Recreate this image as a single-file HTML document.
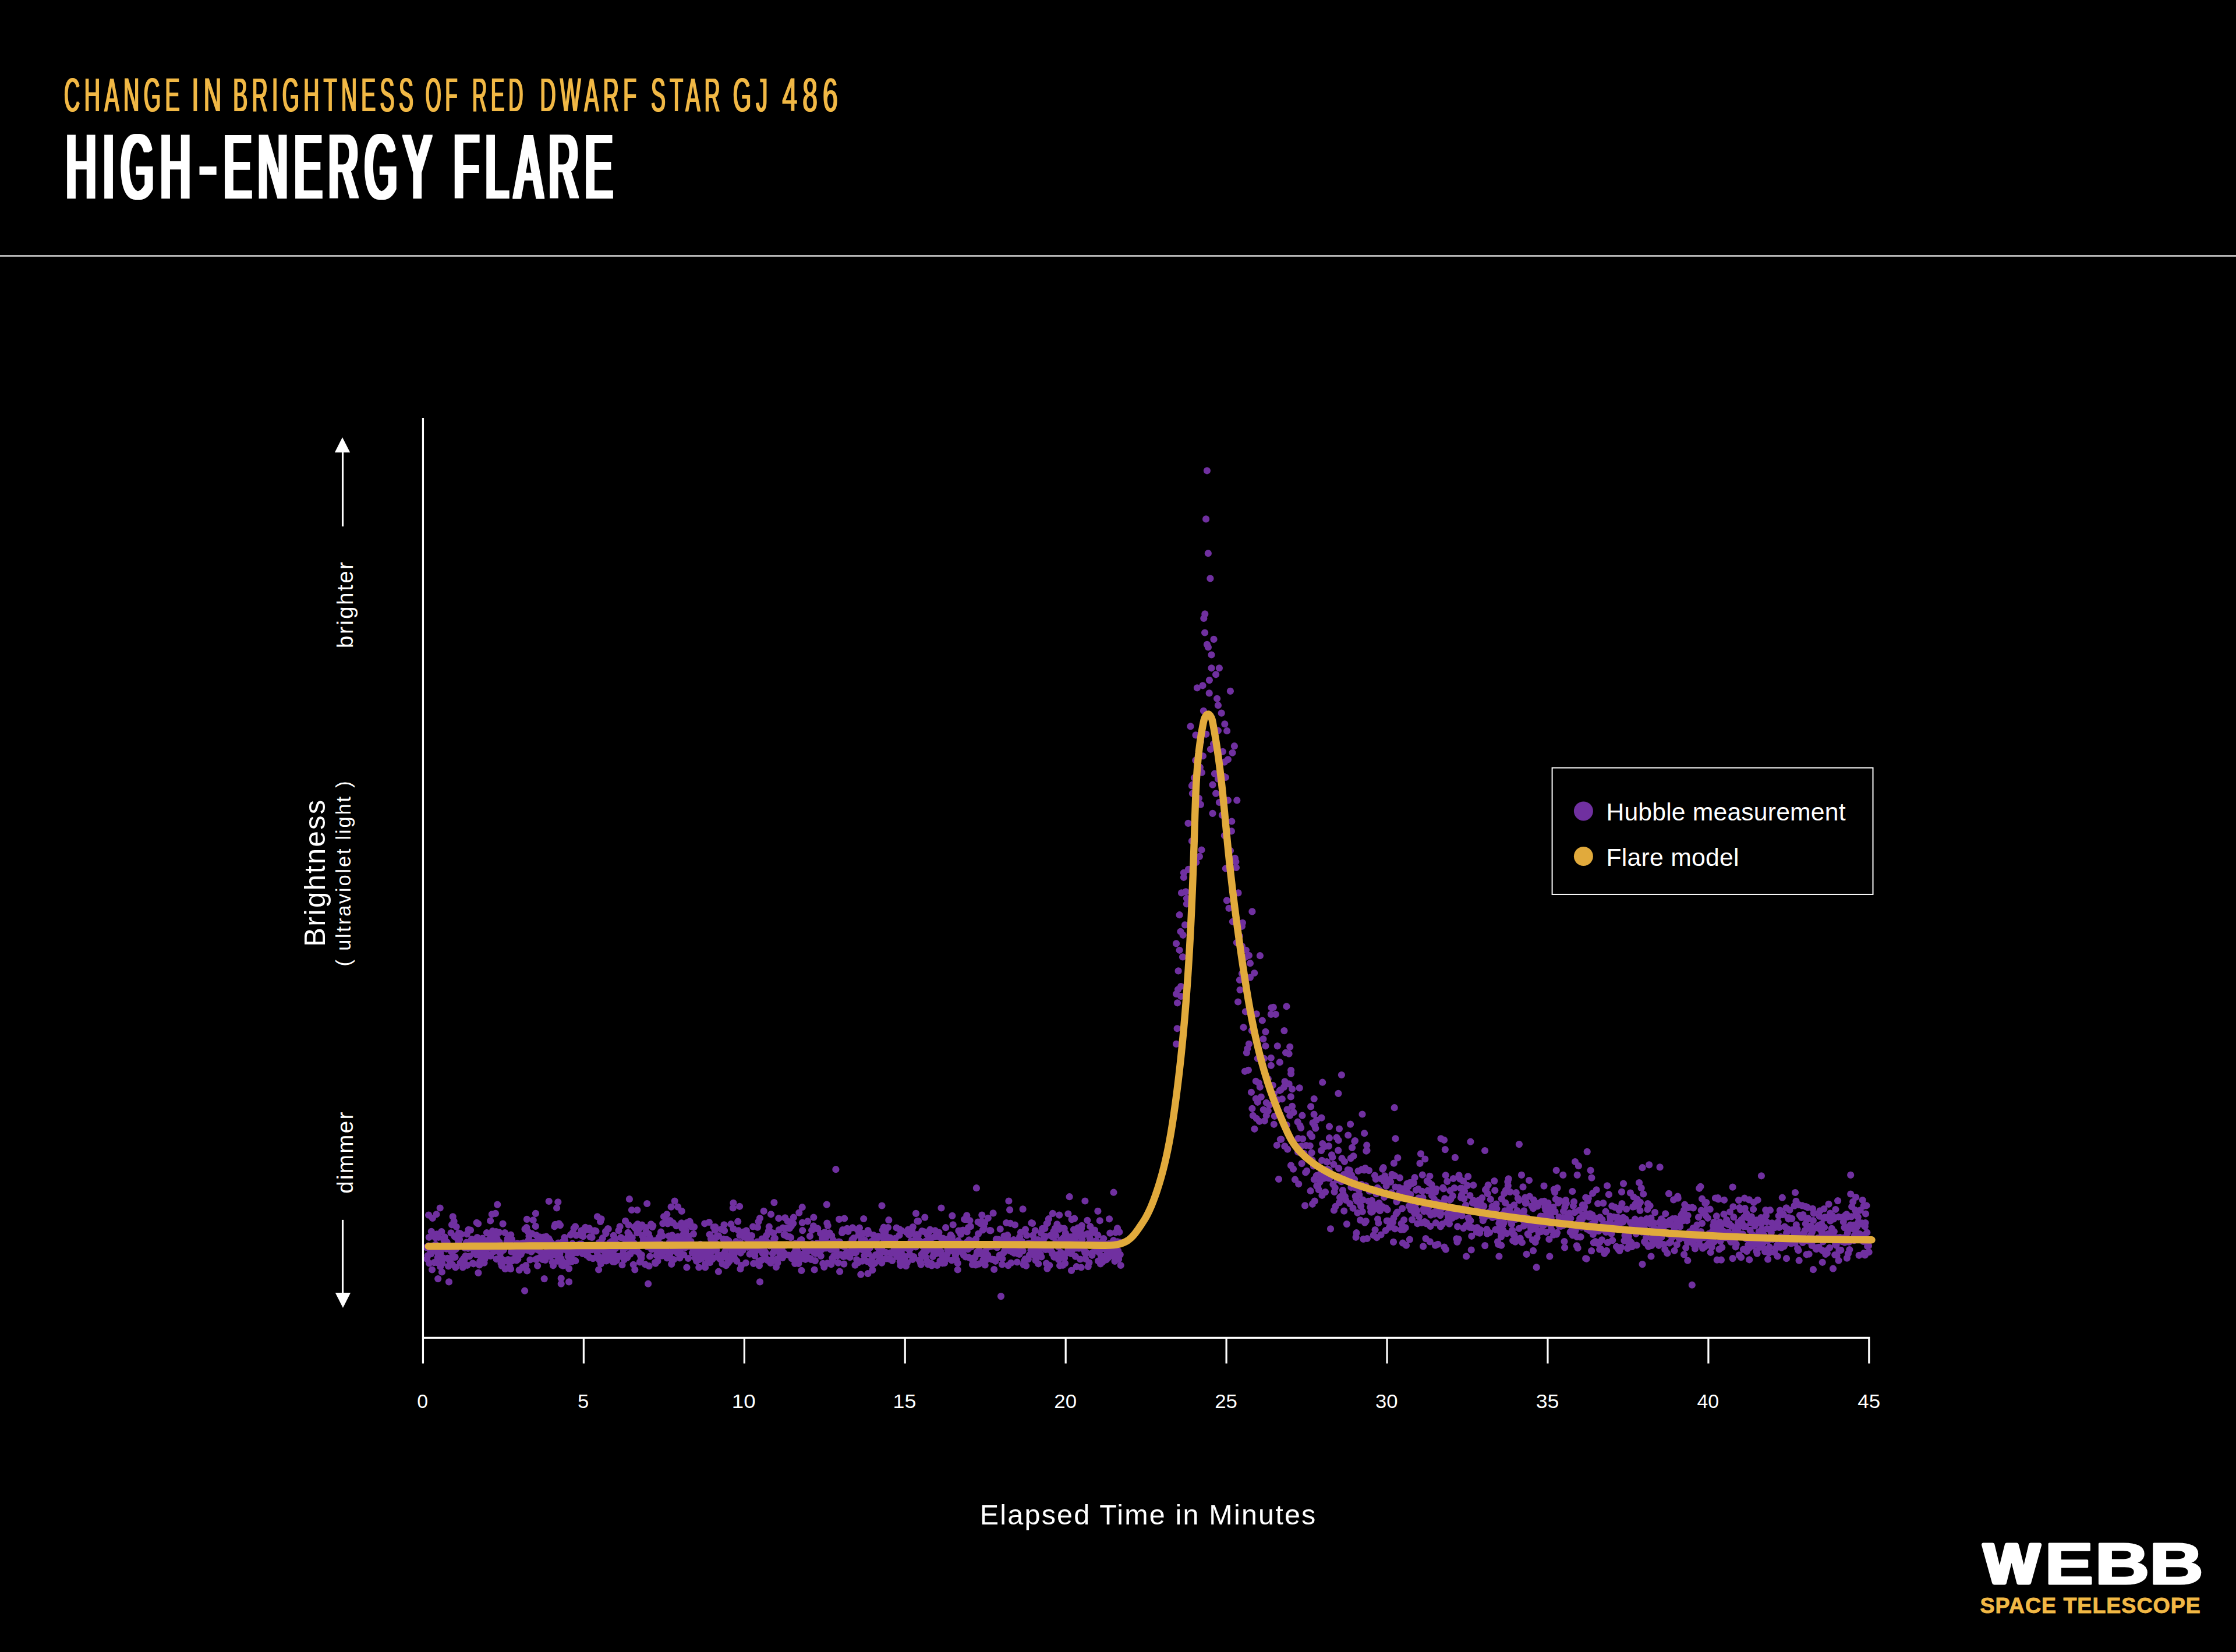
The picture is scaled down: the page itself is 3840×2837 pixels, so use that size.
<!DOCTYPE html>
<html lang="en"><head><meta charset="utf-8"><title>High-Energy Flare</title>
<style>html,body{margin:0;padding:0;background:#000}body{width:3840px;height:2837px;overflow:hidden}svg{display:block}text{font-family:"Liberation Sans",sans-serif;white-space:pre}</style></head><body>
<svg width="3840" height="2837" viewBox="0 0 3840 2837">
<defs><filter id="fatx1" x="-2%" y="-10%" width="104%" height="120%"><feMorphology operator="dilate" radius="1 0"/></filter><filter id="fatx3" x="-2%" y="-10%" width="104%" height="120%"><feMorphology operator="dilate" radius="4 1"/></filter></defs>
<rect width="3840" height="2837" fill="#000"/>
<rect id="rule" x="0" y="438.4" width="3840" height="2.2" fill="#fff"/>
<path id="dots" d="M732.2 2142.2h.01M733.2 2162.0h.01M734.0 2140.8h.01M734.6 2156.3h.01M735.7 2139.7h.01M736.8 2124.8h.01M737.1 2169.5h.01M738.7 2146.6h.01M739.3 2143.3h.01M740.4 2153.1h.01M740.8 2114.9h.01M741.9 2119.7h.01M743.3 2139.5h.01M743.6 2140.3h.01M745.1 2120.3h.01M745.6 2168.2h.01M746.6 2146.6h.01M747.7 2125.4h.01M748.2 2137.2h.01M749.4 2167.9h.01M750.1 2119.3h.01M751.6 2159.9h.01M752.5 2152.8h.01M753.2 2124.8h.01M754.4 2148.0h.01M755.3 2149.2h.01M755.8 2146.7h.01M756.4 2152.3h.01M757.8 2142.7h.01M758.3 2115.0h.01M759.3 2169.9h.01M760.8 2162.1h.01M761.5 2160.7h.01M762.5 2129.9h.01M763.6 2124.4h.01M764.4 2143.9h.01M765.3 2135.7h.01M766.2 2137.4h.01M766.7 2144.8h.01M767.6 2133.2h.01M768.6 2160.9h.01M770.1 2174.5h.01M770.9 2143.6h.01M771.5 2163.6h.01M772.8 2143.2h.01M773.4 2169.6h.01M774.5 2117.3h.01M775.3 2149.6h.01M776.0 2103.3h.01M776.8 2171.5h.01M777.6 2157.2h.01M779.0 2159.1h.01M780.2 2146.9h.01M780.8 2123.5h.01M781.6 2158.9h.01M782.7 2145.3h.01M783.7 2106.8h.01M784.7 2142.8h.01M784.9 2126.2h.01M786.0 2141.4h.01M787.2 2132.6h.01M787.7 2117.7h.01M789.0 2128.5h.01M790.0 2118.4h.01M790.5 2168.9h.01M792.0 2119.7h.01M792.5 2166.9h.01M793.8 2164.3h.01M794.8 2176.4h.01M795.7 2140.8h.01M796.5 2161.1h.01M797.4 2163.4h.01M798.4 2143.3h.01M799.4 2156.8h.01M799.7 2137.2h.01M801.0 2133.6h.01M801.7 2119.3h.01M802.5 2172.8h.01M803.8 2143.8h.01M804.5 2111.9h.01M805.3 2157.5h.01M806.1 2157.4h.01M807.2 2140.7h.01M808.0 2112.5h.01M808.9 2143.1h.01M810.0 2128.1h.01M810.8 2129.2h.01M811.9 2169.3h.01M813.1 2170.3h.01M814.0 2152.5h.01M814.5 2143.3h.01M815.9 2148.1h.01M816.3 2133.6h.01M817.7 2154.5h.01M818.7 2099.8h.01M819.5 2125.0h.01M820.5 2147.7h.01M821.1 2101.5h.01M822.4 2155.0h.01M823.1 2129.2h.01M824.2 2166.1h.01M824.6 2150.8h.01M825.5 2139.1h.01M827.0 2160.8h.01M827.3 2127.4h.01M828.5 2126.7h.01M829.8 2141.8h.01M830.0 2146.5h.01M831.5 2168.7h.01M832.6 2161.9h.01M832.9 2135.4h.01M833.8 2146.3h.01M834.7 2156.6h.01M835.9 2117.1h.01M836.6 2153.3h.01M837.8 2136.5h.01M838.6 2142.6h.01M839.3 2129.2h.01M840.9 2140.3h.01M841.4 2120.0h.01M842.4 2157.0h.01M843.2 2136.4h.01M844.4 2143.0h.01M845.4 2138.9h.01M845.9 2114.2h.01M846.7 2128.9h.01M847.7 2149.5h.01M848.8 2121.5h.01M849.8 2115.9h.01M850.9 2137.4h.01M851.9 2115.1h.01M852.6 2162.3h.01M853.4 2126.7h.01M854.5 2148.5h.01M855.2 2145.7h.01M856.2 2137.7h.01M857.1 2116.4h.01M857.6 2133.3h.01M858.9 2152.2h.01M859.6 2160.1h.01M860.5 2169.5h.01M861.8 2174.0h.01M862.5 2163.2h.01M863.6 2101.6h.01M864.5 2146.9h.01M865.2 2145.2h.01M866.3 2165.4h.01M867.1 2117.0h.01M867.7 2165.3h.01M869.1 2139.5h.01M870.1 2165.4h.01M870.6 2132.2h.01M871.7 2127.0h.01M872.6 2163.1h.01M873.4 2135.6h.01M874.7 2140.3h.01M875.3 2174.5h.01M876.3 2163.9h.01M877.3 2120.7h.01M878.1 2149.7h.01M879.0 2128.4h.01M879.7 2165.2h.01M880.9 2163.1h.01M881.7 2150.8h.01M882.9 2150.6h.01M883.7 2143.7h.01M885.0 2142.4h.01M885.4 2144.7h.01M886.7 2155.3h.01M887.1 2164.5h.01M888.3 2135.4h.01M889.3 2162.5h.01M890.0 2135.8h.01M891.1 2139.8h.01M892.1 2148.3h.01M892.7 2137.8h.01M893.5 2150.1h.01M894.7 2154.1h.01M895.4 2135.7h.01M896.4 2144.8h.01M897.5 2176.4h.01M898.8 2134.5h.01M899.0 2147.5h.01M900.5 2136.4h.01M901.5 2110.9h.01M901.8 2174.4h.01M903.2 2173.2h.01M904.3 2108.0h.01M904.9 2093.9h.01M906.0 2147.0h.01M906.9 2130.9h.01M907.3 2115.8h.01M908.5 2122.9h.01M909.8 2131.6h.01M910.3 2163.5h.01M911.1 2142.7h.01M912.4 2149.8h.01M913.3 2118.4h.01M913.8 2141.7h.01M915.0 2144.3h.01M915.7 2095.3h.01M916.7 2133.9h.01M918.1 2142.3h.01M918.8 2145.1h.01M919.8 2105.9h.01M920.1 2162.8h.01M921.2 2121.4h.01M922.3 2161.7h.01M923.1 2173.7h.01M924.0 2129.1h.01M924.8 2146.9h.01M926.2 2160.4h.01M927.0 2124.3h.01M927.6 2139.5h.01M929.0 2136.1h.01M930.0 2151.4h.01M930.8 2135.9h.01M931.8 2162.9h.01M932.9 2159.8h.01M933.3 2124.5h.01M934.4 2136.1h.01M935.4 2128.9h.01M936.4 2163.9h.01M937.1 2157.9h.01M938.0 2123.6h.01M939.2 2150.0h.01M940.0 2143.9h.01M940.7 2146.7h.01M941.7 2128.9h.01M942.4 2127.1h.01M943.8 2157.5h.01M944.2 2130.5h.01M945.3 2157.9h.01M946.2 2149.1h.01M947.6 2135.0h.01M948.4 2140.6h.01M948.6 2167.5h.01M950.0 2173.3h.01M950.7 2148.5h.01M951.5 2155.1h.01M952.3 2106.3h.01M953.4 2102.8h.01M954.5 2148.0h.01M955.3 2143.1h.01M956.5 2146.7h.01M957.5 2165.6h.01M958.6 2134.5h.01M959.5 2156.5h.01M959.9 2101.3h.01M961.3 2153.3h.01M962.0 2104.1h.01M963.0 2148.0h.01M963.5 2161.6h.01M964.9 2173.0h.01M965.4 2133.4h.01M966.9 2173.7h.01M967.4 2167.6h.01M968.1 2143.7h.01M969.3 2125.2h.01M970.0 2130.6h.01M971.0 2172.2h.01M971.9 2136.0h.01M972.6 2138.5h.01M973.7 2147.6h.01M974.7 2138.8h.01M975.6 2157.4h.01M976.3 2151.8h.01M977.3 2166.2h.01M978.3 2162.8h.01M979.4 2150.6h.01M979.9 2120.7h.01M980.9 2160.9h.01M981.8 2166.6h.01M983.0 2135.6h.01M983.6 2116.9h.01M984.6 2152.5h.01M985.6 2109.3h.01M986.9 2147.5h.01M988.0 2106.3h.01M988.3 2165.2h.01M989.5 2121.4h.01M990.8 2143.6h.01M991.4 2151.1h.01M991.9 2138.0h.01M993.4 2141.5h.01M993.8 2146.6h.01M995.4 2136.5h.01M995.9 2146.1h.01M996.6 2138.5h.01M998.1 2113.6h.01M998.5 2136.4h.01M999.3 2122.3h.01M1000.6 2152.9h.01M1001.5 2123.3h.01M1002.7 2114.1h.01M1003.4 2145.4h.01M1004.0 2109.7h.01M1005.3 2107.8h.01M1006.4 2149.3h.01M1006.9 2150.8h.01M1007.7 2155.6h.01M1008.7 2153.2h.01M1009.9 2140.2h.01M1011.0 2111.9h.01M1011.9 2109.4h.01M1012.3 2159.4h.01M1013.5 2124.1h.01M1014.0 2142.5h.01M1014.9 2142.7h.01M1016.6 2124.9h.01M1016.8 2146.2h.01M1018.3 2161.2h.01M1019.0 2141.5h.01M1019.7 2114.4h.01M1021.0 2140.4h.01M1021.3 2113.4h.01M1022.4 2144.6h.01M1023.5 2114.2h.01M1024.3 2159.4h.01M1025.7 2150.6h.01M1026.2 2155.9h.01M1027.4 2139.3h.01M1027.7 2157.2h.01M1028.7 2134.1h.01M1029.8 2164.3h.01M1031.1 2097.9h.01M1031.8 2170.4h.01M1033.0 2142.2h.01M1033.3 2136.0h.01M1034.8 2126.2h.01M1035.7 2141.8h.01M1036.6 2147.7h.01M1037.5 2158.6h.01M1038.2 2137.9h.01M1039.5 2165.2h.01M1040.0 2114.8h.01M1040.6 2118.1h.01M1041.6 2165.3h.01M1042.7 2155.1h.01M1044.0 2110.1h.01M1044.7 2110.5h.01M1046.0 2143.3h.01M1046.8 2147.0h.01M1047.1 2134.1h.01M1048.4 2156.9h.01M1049.5 2161.1h.01M1050.3 2132.1h.01M1051.4 2133.3h.01M1052.3 2166.6h.01M1053.1 2153.1h.01M1053.7 2121.8h.01M1055.2 2167.0h.01M1055.6 2144.9h.01M1056.7 2128.1h.01M1057.4 2143.7h.01M1058.8 2164.6h.01M1059.4 2157.6h.01M1060.4 2136.8h.01M1061.2 2158.3h.01M1062.4 2113.2h.01M1062.9 2157.9h.01M1064.3 2140.5h.01M1064.6 2106.4h.01M1066.2 2125.1h.01M1066.5 2139.4h.01M1067.4 2138.3h.01M1068.5 2172.2h.01M1069.8 2144.5h.01M1070.4 2151.9h.01M1071.4 2161.3h.01M1072.1 2163.1h.01M1073.5 2128.1h.01M1074.0 2096.9h.01M1075.4 2135.2h.01M1075.9 2142.0h.01M1077.2 2159.8h.01M1078.1 2124.5h.01M1078.4 2116.8h.01M1079.5 2103.6h.01M1080.6 2119.5h.01M1081.9 2152.8h.01M1082.3 2153.8h.01M1083.1 2141.0h.01M1084.3 2142.5h.01M1084.8 2130.6h.01M1085.7 2125.3h.01M1087.1 2141.3h.01M1087.7 2171.8h.01M1088.9 2135.0h.01M1089.5 2107.3h.01M1090.9 2148.4h.01M1091.5 2109.6h.01M1092.9 2104.4h.01M1093.2 2143.6h.01M1094.4 2117.1h.01M1095.2 2102.0h.01M1096.1 2116.7h.01M1096.8 2151.1h.01M1098.3 2109.3h.01M1098.8 2167.4h.01M1100.0 2156.5h.01M1101.2 2161.1h.01M1101.8 2155.0h.01M1102.6 2103.7h.01M1103.2 2122.2h.01M1104.6 2132.4h.01M1105.1 2127.8h.01M1106.4 2130.1h.01M1107.4 2136.4h.01M1108.0 2171.3h.01M1109.2 2108.1h.01M1109.6 2114.5h.01M1111.1 2138.4h.01M1111.8 2141.2h.01M1112.9 2134.1h.01M1113.8 2119.0h.01M1114.6 2174.2h.01M1115.5 2124.8h.01M1116.1 2157.5h.01M1117.2 2133.4h.01M1118.0 2102.3h.01M1119.1 2145.6h.01M1120.3 2107.1h.01M1121.3 2105.0h.01M1121.9 2133.6h.01M1123.1 2130.8h.01M1124.0 2138.9h.01M1125.0 2168.0h.01M1125.7 2169.6h.01M1126.6 2130.3h.01M1127.4 2155.9h.01M1128.3 2148.0h.01M1129.4 2165.8h.01M1130.0 2132.9h.01M1130.9 2127.0h.01M1131.9 2124.7h.01M1133.3 2147.7h.01M1134.1 2121.3h.01M1135.0 2115.7h.01M1135.6 2136.7h.01M1136.6 2156.6h.01M1137.7 2122.4h.01M1138.3 2101.1h.01M1139.3 2140.8h.01M1140.4 2138.1h.01M1141.1 2142.9h.01M1142.0 2141.4h.01M1143.0 2148.2h.01M1143.7 2146.9h.01M1145.1 2096.1h.01M1145.5 2160.4h.01M1146.7 2101.4h.01M1148.1 2156.6h.01M1148.7 2122.5h.01M1149.9 2133.1h.01M1150.1 2153.6h.01M1151.0 2150.5h.01M1152.5 2161.7h.01M1153.2 2170.9h.01M1154.4 2121.3h.01M1154.8 2148.4h.01M1155.8 2100.1h.01M1156.8 2163.2h.01M1157.7 2137.8h.01M1158.4 2128.6h.01M1159.8 2138.3h.01M1160.3 2133.9h.01M1161.3 2105.1h.01M1162.6 2141.7h.01M1163.6 2152.1h.01M1164.1 2123.8h.01M1165.5 2133.3h.01M1166.4 2141.0h.01M1167.3 2160.5h.01M1167.9 2150.1h.01M1168.8 2144.9h.01M1169.8 2127.6h.01M1170.4 2100.3h.01M1171.5 2109.4h.01M1172.8 2120.7h.01M1173.7 2129.8h.01M1174.2 2154.6h.01M1175.6 2128.7h.01M1175.8 2109.2h.01M1177.3 2142.3h.01M1177.9 2113.8h.01M1179.2 2102.7h.01M1179.6 2099.9h.01M1181.2 2137.3h.01M1181.9 2161.0h.01M1182.6 2122.8h.01M1183.4 2140.3h.01M1184.4 2097.5h.01M1185.2 2100.5h.01M1186.4 2131.9h.01M1187.6 2106.8h.01M1187.9 2138.9h.01M1188.9 2151.5h.01M1189.9 2143.5h.01M1190.9 2119.1h.01M1192.1 2107.1h.01M1192.5 2148.6h.01M1193.5 2159.9h.01M1194.8 2146.9h.01M1195.6 2148.6h.01M1196.2 2165.8h.01M1197.1 2145.5h.01M1198.4 2152.2h.01M1199.0 2147.2h.01M1200.5 2163.1h.01M1201.0 2159.5h.01M1201.8 2137.0h.01M1203.1 2136.8h.01M1203.8 2155.0h.01M1205.1 2161.0h.01M1205.5 2158.9h.01M1206.9 2151.8h.01M1207.4 2158.9h.01M1208.6 2149.6h.01M1208.9 2144.0h.01M1210.2 2101.3h.01M1211.0 2171.1h.01M1211.9 2145.8h.01M1213.1 2149.1h.01M1213.7 2145.4h.01M1215.2 2160.9h.01M1216.0 2148.8h.01M1216.8 2141.4h.01M1217.8 2099.0h.01M1218.5 2120.0h.01M1219.2 2168.1h.01M1220.2 2151.9h.01M1221.0 2127.6h.01M1222.0 2149.6h.01M1223.3 2162.4h.01M1224.0 2125.8h.01M1224.8 2160.6h.01M1225.6 2107.3h.01M1226.6 2131.6h.01M1227.8 2112.6h.01M1228.3 2107.1h.01M1229.9 2135.9h.01M1230.3 2146.7h.01M1231.1 2123.5h.01M1231.9 2123.6h.01M1233.1 2155.1h.01M1234.0 2122.4h.01M1235.2 2160.7h.01M1236.4 2158.7h.01M1237.2 2162.7h.01M1237.9 2156.0h.01M1238.6 2111.0h.01M1239.6 2159.4h.01M1240.6 2170.5h.01M1241.2 2154.6h.01M1242.2 2127.8h.01M1243.5 2103.3h.01M1244.1 2113.5h.01M1245.5 2148.8h.01M1246.3 2137.2h.01M1246.9 2173.3h.01M1248.0 2128.5h.01M1249.1 2161.1h.01M1250.2 2156.4h.01M1250.5 2168.7h.01M1251.3 2130.7h.01M1252.8 2165.8h.01M1253.3 2141.6h.01M1254.7 2159.2h.01M1255.3 2102.2h.01M1256.5 2156.7h.01M1257.5 2148.3h.01M1258.2 2137.2h.01M1258.7 2158.3h.01M1259.5 2110.3h.01M1260.5 2154.2h.01M1261.9 2161.7h.01M1262.3 2149.9h.01M1263.9 2132.2h.01M1264.8 2144.1h.01M1265.3 2165.8h.01M1266.2 2138.2h.01M1267.2 2097.7h.01M1268.1 2113.3h.01M1269.2 2139.5h.01M1270.3 2121.6h.01M1271.1 2134.1h.01M1271.9 2151.6h.01M1273.0 2173.2h.01M1273.4 2141.9h.01M1275.0 2147.0h.01M1275.5 2147.2h.01M1276.8 2115.6h.01M1277.7 2122.8h.01M1278.3 2124.6h.01M1279.2 2140.2h.01M1280.0 2124.7h.01M1280.9 2168.8h.01M1281.8 2113.4h.01M1283.2 2119.0h.01M1284.0 2141.8h.01M1285.0 2136.7h.01M1286.0 2131.3h.01M1286.8 2141.0h.01M1287.5 2153.7h.01M1288.6 2128.5h.01M1289.6 2131.7h.01M1290.3 2132.2h.01M1291.0 2122.1h.01M1291.8 2147.5h.01M1293.1 2106.5h.01M1294.1 2169.9h.01M1295.1 2147.9h.01M1296.2 2156.7h.01M1297.0 2149.4h.01M1297.4 2143.2h.01M1298.2 2137.3h.01M1299.6 2145.5h.01M1300.2 2132.6h.01M1301.0 2107.6h.01M1302.6 2097.9h.01M1303.2 2165.6h.01M1303.9 2173.4h.01M1305.2 2166.2h.01M1305.5 2141.3h.01M1307.2 2147.5h.01M1307.9 2164.1h.01M1308.5 2127.7h.01M1309.6 2152.1h.01M1310.2 2133.5h.01M1311.3 2137.2h.01M1312.1 2136.9h.01M1312.9 2148.2h.01M1314.2 2159.6h.01M1314.8 2151.2h.01M1315.6 2123.1h.01M1316.6 2121.4h.01M1318.0 2164.3h.01M1318.5 2133.8h.01M1319.8 2114.3h.01M1320.8 2106.7h.01M1321.7 2139.5h.01M1322.6 2115.3h.01M1323.3 2169.0h.01M1324.2 2135.8h.01M1325.2 2136.2h.01M1325.8 2162.7h.01M1326.9 2152.4h.01M1328.1 2117.5h.01M1329.2 2127.5h.01M1330.0 2145.6h.01M1330.9 2126.6h.01M1331.8 2139.4h.01M1333.0 2165.7h.01M1333.1 2136.8h.01M1334.6 2162.1h.01M1335.4 2168.7h.01M1336.1 2148.1h.01M1337.3 2092.2h.01M1337.8 2112.1h.01M1339.2 2152.7h.01M1339.7 2142.8h.01M1340.7 2139.8h.01M1341.6 2141.0h.01M1342.9 2146.5h.01M1343.8 2160.1h.01M1344.4 2108.7h.01M1345.6 2156.9h.01M1346.6 2120.6h.01M1347.1 2152.4h.01M1347.9 2120.0h.01M1349.5 2109.0h.01M1349.9 2138.5h.01M1351.3 2137.7h.01M1351.7 2123.2h.01M1352.5 2097.0h.01M1353.9 2109.1h.01M1354.7 2155.5h.01M1355.9 2109.4h.01M1356.3 2124.1h.01M1357.5 2098.6h.01M1358.0 2125.3h.01M1358.9 2105.5h.01M1359.8 2161.2h.01M1361.5 2155.2h.01M1362.2 2101.1h.01M1362.9 2155.6h.01M1363.8 2152.0h.01M1365.2 2170.0h.01M1365.7 2135.5h.01M1366.5 2146.8h.01M1367.9 2156.8h.01M1368.7 2137.2h.01M1369.1 2147.4h.01M1370.5 2162.3h.01M1371.5 2169.9h.01M1371.9 2161.7h.01M1373.4 2163.8h.01M1373.7 2155.2h.01M1374.6 2130.0h.01M1375.7 2135.8h.01M1376.4 2129.0h.01M1377.8 2099.7h.01M1378.2 2113.1h.01M1379.7 2157.8h.01M1380.1 2152.9h.01M1381.1 2142.5h.01M1381.9 2137.2h.01M1383.2 2162.8h.01M1384.5 2155.8h.01M1385.3 2159.9h.01M1385.8 2137.7h.01M1387.0 2097.4h.01M1387.9 2148.2h.01M1388.4 2144.4h.01M1389.6 2160.5h.01M1390.9 2122.9h.01M1391.6 2141.2h.01M1392.0 2161.5h.01M1392.9 2163.0h.01M1394.1 2112.8h.01M1395.1 2136.2h.01M1396.4 2148.7h.01M1397.0 2105.3h.01M1397.6 2149.0h.01M1398.4 2151.2h.01M1399.9 2165.1h.01M1400.7 2152.6h.01M1401.9 2109.8h.01M1402.3 2148.1h.01M1403.1 2135.0h.01M1404.3 2109.7h.01M1405.6 2143.6h.01M1406.3 2152.8h.01M1406.9 2139.7h.01M1407.8 2137.6h.01M1409.1 2118.1h.01M1409.7 2157.0h.01M1410.7 2146.2h.01M1412.1 2125.9h.01M1412.5 2129.5h.01M1413.3 2169.9h.01M1414.6 2129.6h.01M1415.1 2170.5h.01M1416.3 2116.1h.01M1417.6 2116.7h.01M1418.3 2143.5h.01M1418.9 2124.5h.01M1420.3 2100.5h.01M1420.8 2169.4h.01M1421.6 2104.9h.01M1422.5 2135.1h.01M1423.9 2143.8h.01M1424.7 2117.3h.01M1425.5 2142.0h.01M1426.6 2145.7h.01M1427.4 2171.3h.01M1428.2 2122.0h.01M1429.4 2160.5h.01M1430.1 2165.3h.01M1430.9 2129.7h.01M1432.2 2156.4h.01M1432.6 2138.2h.01M1433.5 2135.2h.01M1434.7 2156.8h.01M1435.8 2146.4h.01M1436.4 2155.4h.01M1437.6 2156.9h.01M1438.7 2139.0h.01M1439.6 2168.7h.01M1440.2 2132.6h.01M1441.1 2093.9h.01M1441.9 2132.9h.01M1443.0 2134.3h.01M1443.7 2154.6h.01M1445.1 2139.1h.01M1446.1 2116.9h.01M1447.0 2112.2h.01M1447.7 2115.1h.01M1448.3 2158.0h.01M1449.3 2170.6h.01M1450.0 2140.9h.01M1451.3 2157.1h.01M1452.5 2152.8h.01M1453.0 2138.8h.01M1454.1 2150.2h.01M1454.7 2109.8h.01M1456.1 2138.2h.01M1456.5 2114.8h.01M1458.0 2136.3h.01M1458.3 2136.6h.01M1459.6 2159.2h.01M1460.2 2135.6h.01M1461.6 2148.6h.01M1462.5 2147.4h.01M1463.6 2128.6h.01M1464.2 2108.4h.01M1465.0 2128.4h.01M1466.2 2126.0h.01M1467.2 2151.1h.01M1468.1 2147.4h.01M1468.5 2172.6h.01M1469.6 2151.3h.01M1470.2 2150.2h.01M1471.3 2163.3h.01M1472.5 2111.5h.01M1473.7 2168.4h.01M1474.6 2121.3h.01M1474.9 2115.3h.01M1476.0 2108.7h.01M1476.8 2136.2h.01M1477.7 2143.0h.01M1479.1 2145.3h.01M1479.5 2129.8h.01M1480.8 2165.6h.01M1482.0 2146.4h.01M1482.5 2118.2h.01M1483.2 2093.0h.01M1484.3 2156.2h.01M1484.9 2129.5h.01M1485.8 2143.6h.01M1487.3 2148.7h.01M1487.9 2133.7h.01M1489.2 2166.1h.01M1489.9 2118.7h.01M1490.5 2113.2h.01M1491.3 2153.2h.01M1492.3 2117.7h.01M1493.8 2143.0h.01M1494.5 2138.4h.01M1495.7 2169.9h.01M1496.4 2132.2h.01M1496.9 2171.6h.01M1498.3 2158.9h.01M1499.2 2171.2h.01M1500.1 2121.0h.01M1501.1 2132.2h.01M1502.0 2169.4h.01M1502.5 2126.4h.01M1503.8 2155.0h.01M1504.8 2126.5h.01M1505.8 2126.6h.01M1506.5 2126.4h.01M1507.5 2142.3h.01M1508.2 2123.4h.01M1509.4 2165.3h.01M1510.0 2146.2h.01M1510.9 2154.0h.01M1511.8 2159.4h.01M1512.8 2151.5h.01M1514.1 2144.2h.01M1514.3 2168.8h.01M1515.8 2112.5h.01M1516.3 2122.2h.01M1517.7 2107.7h.01M1518.1 2129.8h.01M1519.1 2120.1h.01M1520.5 2114.6h.01M1521.2 2150.8h.01M1522.2 2161.4h.01M1523.3 2123.9h.01M1524.2 2135.3h.01M1525.0 2108.0h.01M1526.0 2129.8h.01M1526.3 2095.2h.01M1527.8 2162.1h.01M1528.6 2125.5h.01M1529.7 2151.4h.01M1530.5 2152.7h.01M1531.3 2138.1h.01M1532.2 2165.0h.01M1532.9 2130.4h.01M1533.7 2133.8h.01M1535.1 2151.3h.01M1535.7 2145.7h.01M1536.9 2141.6h.01M1537.6 2126.7h.01M1538.6 2138.2h.01M1539.6 2108.5h.01M1540.3 2157.9h.01M1541.3 2145.2h.01M1542.5 2138.0h.01M1543.3 2155.7h.01M1544.5 2121.3h.01M1544.7 2111.0h.01M1545.8 2166.6h.01M1546.6 2173.2h.01M1547.7 2150.1h.01M1548.6 2113.5h.01M1549.7 2140.6h.01M1550.6 2156.3h.01M1551.6 2164.7h.01M1552.4 2161.8h.01M1553.1 2142.7h.01M1553.9 2160.8h.01M1554.8 2158.1h.01M1555.9 2174.2h.01M1557.2 2116.4h.01M1557.9 2168.4h.01M1558.9 2144.3h.01M1559.7 2111.6h.01M1560.9 2120.3h.01M1561.7 2119.7h.01M1562.4 2154.4h.01M1563.1 2144.8h.01M1564.6 2131.2h.01M1565.7 2132.9h.01M1566.3 2112.6h.01M1567.2 2163.0h.01M1567.8 2107.0h.01M1569.2 2158.0h.01M1570.1 2132.7h.01M1570.9 2130.3h.01M1572.0 2121.1h.01M1572.7 2141.5h.01M1573.6 2129.2h.01M1574.6 2120.2h.01M1575.4 2097.2h.01M1576.7 2121.8h.01M1577.1 2097.1h.01M1578.3 2130.4h.01M1578.7 2164.0h.01M1579.6 2163.9h.01M1580.9 2168.5h.01M1581.6 2171.8h.01M1582.6 2154.3h.01M1583.3 2114.2h.01M1584.7 2140.3h.01M1585.6 2150.9h.01M1586.4 2115.0h.01M1587.4 2133.1h.01M1588.6 2139.9h.01M1589.4 2158.2h.01M1589.9 2131.6h.01M1591.2 2148.3h.01M1592.0 2165.8h.01M1592.8 2120.7h.01M1593.6 2171.1h.01M1595.1 2139.6h.01M1595.6 2124.2h.01M1596.5 2114.2h.01M1597.2 2111.7h.01M1598.3 2127.6h.01M1599.5 2169.9h.01M1600.1 2173.4h.01M1601.3 2145.1h.01M1602.0 2158.0h.01M1603.1 2142.2h.01M1603.7 2150.5h.01M1604.7 2124.2h.01M1605.9 2113.3h.01M1607.0 2153.2h.01M1607.6 2123.5h.01M1608.2 2137.2h.01M1609.4 2172.9h.01M1610.4 2146.3h.01M1611.1 2149.8h.01M1612.4 2116.5h.01M1613.1 2139.7h.01M1614.4 2165.4h.01M1614.7 2125.2h.01M1615.5 2149.1h.01M1616.7 2154.5h.01M1617.7 2165.1h.01M1618.7 2169.3h.01M1619.6 2126.5h.01M1620.8 2135.0h.01M1621.0 2137.6h.01M1622.1 2169.0h.01M1622.9 2137.4h.01M1624.1 2108.2h.01M1625.2 2134.9h.01M1625.6 2161.6h.01M1626.6 2153.6h.01M1627.5 2145.4h.01M1629.0 2139.0h.01M1629.5 2126.8h.01M1630.3 2142.9h.01M1631.4 2134.9h.01M1632.7 2120.8h.01M1633.6 2147.3h.01M1634.5 2164.5h.01M1635.0 2124.2h.01M1635.9 2139.8h.01M1636.7 2103.3h.01M1638.0 2149.4h.01M1638.6 2147.2h.01M1640.1 2133.6h.01M1640.9 2155.8h.01M1641.5 2144.4h.01M1642.8 2163.8h.01M1643.3 2142.5h.01M1644.7 2169.4h.01M1645.6 2130.7h.01M1646.4 2113.5h.01M1646.8 2149.0h.01M1647.8 2115.5h.01M1648.6 2146.9h.01M1650.0 2119.7h.01M1650.6 2137.9h.01M1651.3 2113.4h.01M1652.4 2136.1h.01M1653.9 2112.6h.01M1654.7 2146.1h.01M1655.0 2155.4h.01M1656.1 2094.0h.01M1657.5 2144.5h.01M1658.3 2158.5h.01M1658.8 2093.9h.01M1660.0 2133.6h.01M1660.7 2115.4h.01M1662.2 2145.3h.01M1663.0 2108.0h.01M1663.5 2159.3h.01M1664.2 2129.3h.01M1665.5 2096.1h.01M1666.8 2106.2h.01M1667.2 2131.1h.01M1668.2 2141.3h.01M1669.4 2162.6h.01M1670.0 2171.6h.01M1670.9 2160.6h.01M1671.7 2166.2h.01M1673.2 2132.6h.01M1674.2 2134.1h.01M1674.4 2159.5h.01M1676.0 2136.5h.01M1676.2 2127.7h.01M1677.5 2153.9h.01M1678.1 2149.9h.01M1679.6 2098.5h.01M1680.1 2118.9h.01M1680.9 2170.6h.01M1682.1 2141.1h.01M1682.7 2149.2h.01M1683.7 2101.2h.01M1684.9 2153.1h.01M1686.0 2097.3h.01M1686.9 2153.7h.01M1687.7 2112.5h.01M1688.3 2163.9h.01M1689.6 2107.6h.01M1690.7 2162.3h.01M1691.0 2100.3h.01M1692.5 2148.6h.01M1693.2 2164.0h.01M1693.9 2157.5h.01M1695.3 2160.8h.01M1696.2 2155.3h.01M1696.8 2091.9h.01M1698.1 2138.3h.01M1698.3 2141.3h.01M1699.9 2113.2h.01M1700.5 2139.3h.01M1701.4 2113.3h.01M1702.1 2140.5h.01M1703.3 2162.7h.01M1704.5 2162.9h.01M1705.2 2138.5h.01M1705.7 2137.6h.01M1706.6 2163.2h.01M1707.9 2163.1h.01M1709.1 2140.4h.01M1709.6 2165.8h.01M1710.8 2128.2h.01M1711.6 2129.2h.01M1712.4 2142.5h.01M1713.6 2136.9h.01M1714.6 2129.3h.01M1714.8 2128.5h.01M1716.0 2136.2h.01M1716.7 2155.6h.01M1717.7 2110.7h.01M1719.2 2160.0h.01M1719.4 2134.5h.01M1721.0 2171.5h.01M1721.4 2161.7h.01M1722.3 2134.4h.01M1723.3 2151.7h.01M1724.5 2122.5h.01M1725.3 2147.8h.01M1726.3 2130.8h.01M1727.5 2134.6h.01M1728.2 2100.0h.01M1729.3 2141.6h.01M1730.2 2121.2h.01M1731.1 2128.5h.01M1731.4 2173.1h.01M1732.4 2147.2h.01M1733.3 2144.0h.01M1734.4 2148.1h.01M1735.1 2100.9h.01M1736.2 2168.9h.01M1737.2 2141.6h.01M1738.3 2149.9h.01M1739.5 2146.2h.01M1740.0 2130.1h.01M1740.8 2129.2h.01M1741.7 2152.0h.01M1743.0 2103.5h.01M1743.6 2149.0h.01M1744.5 2141.6h.01M1745.8 2130.7h.01M1746.8 2167.5h.01M1747.6 2129.7h.01M1748.0 2153.0h.01M1749.2 2137.8h.01M1750.5 2153.9h.01M1751.2 2124.0h.01M1751.6 2139.3h.01M1753.0 2116.3h.01M1753.8 2147.6h.01M1754.4 2142.4h.01M1755.3 2132.2h.01M1756.6 2148.1h.01M1757.8 2171.9h.01M1758.6 2138.1h.01M1759.1 2165.3h.01M1760.6 2162.2h.01M1761.0 2111.4h.01M1762.2 2173.8h.01M1763.3 2121.5h.01M1764.3 2137.5h.01M1764.6 2135.9h.01M1765.8 2162.5h.01M1767.1 2135.3h.01M1767.9 2155.2h.01M1768.3 2136.4h.01M1769.8 2135.4h.01M1770.5 2147.1h.01M1771.4 2100.2h.01M1772.1 2146.7h.01M1773.0 2100.9h.01M1773.9 2121.5h.01M1775.0 2144.2h.01M1776.2 2127.9h.01M1777.2 2156.9h.01M1777.8 2113.3h.01M1778.6 2164.5h.01M1779.5 2143.2h.01M1780.5 2148.1h.01M1781.7 2151.8h.01M1782.7 2129.2h.01M1783.2 2170.3h.01M1784.3 2146.1h.01M1784.8 2156.0h.01M1785.7 2138.2h.01M1786.7 2153.7h.01M1787.9 2117.7h.01M1788.4 2158.5h.01M1790.1 2109.9h.01M1790.7 2111.2h.01M1791.5 2131.1h.01M1792.2 2138.9h.01M1793.2 2126.5h.01M1794.4 2109.8h.01M1795.2 2123.4h.01M1795.8 2145.9h.01M1797.0 2169.6h.01M1797.6 2101.5h.01M1798.9 2100.5h.01M1800.2 2138.2h.01M1800.9 2093.2h.01M1801.6 2146.0h.01M1802.3 2173.1h.01M1803.8 2121.8h.01M1804.0 2146.4h.01M1805.4 2140.1h.01M1806.6 2150.6h.01M1807.3 2153.3h.01M1808.1 2124.5h.01M1809.4 2114.9h.01M1810.2 2158.8h.01M1811.2 2115.7h.01M1811.9 2109.5h.01M1813.1 2133.5h.01M1813.4 2122.0h.01M1814.2 2155.4h.01M1815.4 2102.3h.01M1816.7 2134.5h.01M1817.2 2141.0h.01M1818.1 2163.3h.01M1819.1 2110.9h.01M1820.1 2173.4h.01M1820.8 2108.6h.01M1821.6 2150.6h.01M1822.8 2128.8h.01M1823.7 2157.6h.01M1824.6 2154.1h.01M1825.4 2172.8h.01M1826.5 2125.5h.01M1827.7 2109.7h.01M1828.0 2160.4h.01M1829.1 2169.6h.01M1829.9 2117.9h.01M1831.4 2152.3h.01M1831.6 2128.8h.01M1833.1 2151.4h.01M1833.6 2141.0h.01M1834.5 2145.6h.01M1835.9 2150.1h.01M1836.9 2125.7h.01M1837.5 2124.0h.01M1838.1 2130.5h.01M1839.7 2153.0h.01M1840.5 2094.1h.01M1841.1 2147.2h.01M1841.7 2137.5h.01M1842.8 2123.5h.01M1844.0 2111.5h.01M1845.1 2092.6h.01M1846.2 2126.3h.01M1847.0 2157.7h.01M1847.9 2118.9h.01M1848.2 2134.1h.01M1849.2 2143.4h.01M1850.0 2117.2h.01M1851.2 2108.6h.01M1852.2 2122.5h.01M1852.9 2143.7h.01M1854.5 2115.9h.01M1855.1 2162.5h.01M1856.2 2110.4h.01M1857.0 2109.6h.01M1857.8 2104.8h.01M1858.4 2129.0h.01M1859.3 2142.6h.01M1860.2 2143.1h.01M1861.3 2120.5h.01M1862.2 2147.2h.01M1863.4 2151.8h.01M1863.9 2161.6h.01M1864.8 2138.1h.01M1866.3 2151.5h.01M1867.3 2095.8h.01M1867.7 2118.8h.01M1868.7 2175.1h.01M1869.4 2135.6h.01M1870.4 2168.3h.01M1871.5 2126.1h.01M1872.3 2106.2h.01M1873.3 2130.1h.01M1874.2 2116.8h.01M1875.4 2155.8h.01M1876.3 2151.2h.01M1876.9 2135.4h.01M1877.9 2116.7h.01M1879.0 2138.9h.01M1880.0 2112.6h.01M1880.5 2139.9h.01M1881.4 2139.8h.01M1882.2 2131.2h.01M1883.5 2139.0h.01M1884.8 2146.1h.01M1885.4 2121.2h.01M1886.0 2165.5h.01M1887.5 2151.0h.01M1888.2 2140.8h.01M1888.8 2096.3h.01M1889.9 2170.5h.01M1891.0 2156.8h.01M1892.1 2133.2h.01M1893.1 2159.7h.01M1893.6 2166.9h.01M1894.5 2144.2h.01M1895.3 2127.1h.01M1896.2 2139.2h.01M1897.4 2136.4h.01M1898.3 2143.6h.01M1899.1 2162.5h.01M1900.0 2163.3h.01M1900.6 2154.2h.01M1901.8 2145.3h.01M1902.6 2140.4h.01M1903.4 2159.7h.01M1904.6 2135.9h.01M1905.3 2147.6h.01M1906.3 2117.6h.01M1907.8 2141.0h.01M1908.4 2151.3h.01M1908.9 2140.4h.01M1909.8 2135.4h.01M1911.0 2153.1h.01M1912.2 2130.2h.01M1913.3 2145.7h.01M1913.6 2157.7h.01M1914.5 2165.9h.01M1915.8 2116.5h.01M1916.4 2137.8h.01M1917.4 2150.3h.01M1918.8 2132.4h.01M1919.0 2109.3h.01M1920.1 2148.0h.01M1921.1 2162.5h.01M1922.3 2115.8h.01M1922.9 2133.3h.01M1923.7 2154.6h.01M1924.7 2173.0h.01M2206.3 1968.4h.01M2211.2 1973.7h.01M2217.0 2001.4h.01M2221.0 2007.6h.01M2224.0 2025.7h.01M2227.5 1968.9h.01M2229.1 1978.4h.01M2230.2 2033.3h.01M2233.3 1979.4h.01M2234.7 1968.3h.01M2235.6 1998.1h.01M2239.4 1980.9h.01M2242.2 2013.4h.01M2243.0 1967.1h.01M2244.2 2010.9h.01M2246.6 1988.9h.01M2248.6 1990.3h.01M2249.7 1967.8h.01M2250.6 2045.2h.01M2252.6 1979.6h.01M2253.6 1992.2h.01M2254.0 2067.8h.01M2255.3 1997.9h.01M2255.9 2002.4h.01M2256.8 2025.5h.01M2257.8 2062.6h.01M2260.9 2018.9h.01M2261.3 2036.6h.01M2263.2 2036.2h.01M2264.0 2003.6h.01M2264.8 2043.2h.01M2266.5 2029.9h.01M2266.8 2016.6h.01M2267.6 2020.3h.01M2269.1 1975.9h.01M2270.1 1992.8h.01M2270.4 2052.8h.01M2271.3 1964.1h.01M2272.9 2017.1h.01M2273.4 2023.7h.01M2274.7 2018.0h.01M2275.2 1968.9h.01M2276.0 2047.1h.01M2276.9 2022.3h.01M2278.5 1995.2h.01M2279.3 1995.5h.01M2279.6 2007.6h.01M2281.0 2023.1h.01M2281.9 1968.1h.01M2282.6 2009.5h.01M2283.4 2023.5h.01M2285.8 2018.3h.01M2286.2 2017.0h.01M2287.0 1983.3h.01M2288.3 1987.3h.01M2289.4 2033.9h.01M2290.4 1999.6h.01M2290.9 2078.5h.01M2291.6 2046.9h.01M2292.8 2040.0h.01M2293.6 2071.9h.01M2296.5 2025.8h.01M2297.7 2020.0h.01M2298.2 1975.6h.01M2299.1 2006.4h.01M2300.0 2065.2h.01M2301.0 2056.3h.01M2301.8 2057.1h.01M2302.6 2054.8h.01M2303.6 2029.2h.01M2304.5 1989.3h.01M2306.0 2044.1h.01M2306.7 2050.4h.01M2307.9 2017.1h.01M2308.2 2079.6h.01M2309.0 1994.8h.01M2309.9 2055.1h.01M2311.3 2061.0h.01M2312.4 2027.8h.01M2312.9 2102.1h.01M2313.8 2017.9h.01M2314.7 2009.1h.01M2315.8 2014.9h.01M2317.1 2024.9h.01M2317.8 2009.7h.01M2318.4 2067.2h.01M2319.8 1989.1h.01M2320.4 2039.0h.01M2321.1 2018.2h.01M2322.0 1970.9h.01M2323.5 2074.8h.01M2324.4 1985.3h.01M2324.8 2025.9h.01M2326.1 2025.3h.01M2326.9 2039.5h.01M2327.8 2054.3h.01M2328.7 2059.6h.01M2329.5 2117.2h.01M2330.5 2062.7h.01M2331.3 2082.8h.01M2332.5 2011.0h.01M2333.6 2043.4h.01M2334.3 2051.9h.01M2335.1 2066.1h.01M2336.1 2095.4h.01M2337.2 2071.4h.01M2338.0 2034.1h.01M2338.7 2008.3h.01M2339.8 2080.7h.01M2340.5 2060.6h.01M2341.4 2127.9h.01M2342.8 2009.4h.01M2343.8 2099.6h.01M2344.6 2006.1h.01M2345.6 2036.4h.01M2346.3 1976.6h.01M2347.2 1966.7h.01M2347.8 2127.0h.01M2348.7 2040.7h.01M2350.1 2062.9h.01M2351.0 2010.1h.01M2351.6 2045.5h.01M2352.8 2045.4h.01M2353.2 2073.2h.01M2354.3 2080.9h.01M2355.2 2081.6h.01M2355.9 2061.9h.01M2356.9 2080.6h.01M2358.4 2067.9h.01M2358.7 2121.3h.01M2359.9 2044.0h.01M2361.0 2018.7h.01M2361.6 2112.1h.01M2362.8 2024.9h.01M2363.6 2050.2h.01M2364.5 2075.6h.01M2365.6 2039.8h.01M2366.1 2093.6h.01M2367.3 2100.3h.01M2368.5 2066.0h.01M2369.2 2043.7h.01M2369.9 2079.2h.01M2371.4 2024.1h.01M2371.6 2120.5h.01M2372.5 2075.8h.01M2373.8 2072.2h.01M2374.4 2007.8h.01M2375.7 2005.2h.01M2376.5 2028.1h.01M2377.1 2055.9h.01M2378.2 2019.4h.01M2379.7 2113.1h.01M2380.1 2074.5h.01M2380.7 2036.8h.01M2381.7 2096.6h.01M2382.6 2077.5h.01M2383.6 2096.5h.01M2384.5 2029.6h.01M2386.0 2107.7h.01M2386.5 2025.8h.01M2387.9 2102.8h.01M2388.2 2029.8h.01M2389.5 2048.3h.01M2390.5 2016.9h.01M2390.8 2051.1h.01M2392.1 2099.0h.01M2393.4 2091.9h.01M2393.8 1997.7h.01M2395.1 2019.1h.01M2395.6 2110.3h.01M2396.5 2038.5h.01M2397.7 2084.5h.01M2398.4 2063.6h.01M2399.7 2081.5h.01M2400.3 1988.4h.01M2401.1 2055.6h.01M2402.6 2039.4h.01M2403.4 2048.4h.01M2404.0 2022.7h.01M2405.4 2057.4h.01M2406.0 2111.7h.01M2406.6 2101.4h.01M2408.1 2075.4h.01M2409.0 2134.7h.01M2409.8 2041.3h.01M2410.7 2111.4h.01M2411.1 2095.0h.01M2412.7 2108.4h.01M2413.6 2108.4h.01M2414.4 2046.7h.01M2415.0 2138.7h.01M2416.4 2032.9h.01M2416.8 2037.3h.01M2417.9 2048.7h.01M2418.6 2037.8h.01M2419.8 2071.1h.01M2421.0 2031.0h.01M2421.3 2058.5h.01M2422.2 2051.3h.01M2423.1 2077.8h.01M2424.2 2032.9h.01M2425.1 2094.6h.01M2425.9 2029.9h.01M2427.0 2075.5h.01M2427.9 2031.2h.01M2429.3 2083.7h.01M2429.6 2022.2h.01M2430.9 2068.5h.01M2431.9 2043.8h.01M2432.5 2077.9h.01M2433.4 2079.1h.01M2434.3 2101.3h.01M2435.5 2041.9h.01M2436.2 2057.4h.01M2436.9 2089.5h.01M2438.5 1997.9h.01M2439.0 2063.0h.01M2440.2 2061.8h.01M2441.1 2100.0h.01M2442.2 2045.8h.01M2442.8 2017.7h.01M2443.4 2056.6h.01M2444.9 2076.0h.01M2445.4 2080.3h.01M2446.8 2098.0h.01M2447.1 2072.8h.01M2448.5 2127.1h.01M2449.2 2101.3h.01M2450.0 2100.0h.01M2450.8 2028.1h.01M2451.9 2044.7h.01M2453.1 2081.2h.01M2453.4 2072.8h.01M2454.5 2031.2h.01M2455.4 2019.8h.01M2456.4 2105.9h.01M2457.2 2086.6h.01M2458.5 2034.3h.01M2459.0 2053.1h.01M2460.3 2042.2h.01M2461.5 2082.4h.01M2462.0 2047.4h.01M2463.0 2059.4h.01M2463.8 2084.8h.01M2464.9 2047.3h.01M2465.8 2100.2h.01M2466.4 2041.8h.01M2467.7 2074.3h.01M2468.8 2064.7h.01M2469.4 2136.8h.01M2470.4 2079.3h.01M2470.9 2084.4h.01M2472.2 2072.2h.01M2473.4 2087.1h.01M2473.9 2106.4h.01M2474.5 2084.1h.01M2475.8 2075.5h.01M2477.0 2102.1h.01M2478.0 2039.7h.01M2478.9 2041.5h.01M2479.3 2063.9h.01M2480.3 2141.5h.01M2481.3 2058.4h.01M2482.7 2018.3h.01M2482.9 2145.7h.01M2484.4 2098.1h.01M2485.3 2028.9h.01M2485.6 2084.1h.01M2487.2 2089.7h.01M2487.7 2086.4h.01M2489.0 2101.7h.01M2489.9 2060.8h.01M2490.4 2044.7h.01M2491.5 2059.1h.01M2492.8 2085.8h.01M2493.6 2075.2h.01M2494.0 2092.0h.01M2494.9 2053.7h.01M2495.8 2024.0h.01M2496.7 2074.7h.01M2497.6 2040.1h.01M2498.5 2087.4h.01M2499.4 2077.0h.01M2500.3 2088.8h.01M2501.4 2127.3h.01M2502.1 2085.9h.01M2503.2 2106.4h.01M2504.6 2127.9h.01M2505.5 2018.3h.01M2506.1 2076.9h.01M2507.3 2024.7h.01M2508.3 2040.7h.01M2509.0 2056.7h.01M2510.0 2052.2h.01M2510.5 2087.8h.01M2511.5 2041.1h.01M2513.0 2028.5h.01M2513.3 2109.1h.01M2514.3 2058.6h.01M2515.0 2045.4h.01M2516.6 2070.8h.01M2517.2 2069.6h.01M2517.8 2104.5h.01M2518.9 2078.8h.01M2520.2 2035.9h.01M2521.1 2020.4h.01M2521.6 2091.4h.01M2523.1 2098.3h.01M2524.0 2107.8h.01M2524.4 2053.0h.01M2525.3 2096.2h.01M2526.7 2146.5h.01M2527.3 2122.8h.01M2527.9 2108.1h.01M2528.8 2065.6h.01M2530.2 2035.3h.01M2530.6 2061.5h.01M2531.8 2066.5h.01M2532.5 2080.5h.01M2534.1 2080.4h.01M2534.5 2080.3h.01M2536.0 2115.8h.01M2536.7 2108.1h.01M2537.7 2074.0h.01M2538.3 2065.5h.01M2539.0 2061.6h.01M2540.5 2061.2h.01M2541.1 2117.6h.01M2542.3 2112.0h.01M2542.9 2066.0h.01M2544.1 2083.5h.01M2545.2 2057.2h.01M2546.0 2090.3h.01M2546.8 2096.2h.01M2547.8 2087.8h.01M2548.2 2071.4h.01M2549.2 2091.3h.01M2550.2 2139.1h.01M2551.0 2043.2h.01M2552.4 2041.7h.01M2553.3 2111.2h.01M2554.0 2118.6h.01M2554.7 2049.8h.01M2555.7 2035.0h.01M2556.7 2087.0h.01M2558.0 2116.8h.01M2559.0 2080.5h.01M2559.8 2059.7h.01M2560.7 2080.5h.01M2561.3 2087.4h.01M2562.6 2071.9h.01M2563.1 2090.9h.01M2564.3 2086.9h.01M2565.1 2076.2h.01M2566.3 2028.1h.01M2567.3 2044.3h.01M2567.8 2089.2h.01M2568.3 2111.7h.01M2569.6 2067.5h.01M2570.3 2075.8h.01M2571.8 2111.0h.01M2572.0 2132.5h.01M2573.1 2137.0h.01M2574.3 2100.7h.01M2575.4 2097.5h.01M2575.9 2096.7h.01M2576.8 2115.7h.01M2578.0 2123.9h.01M2578.8 2058.8h.01M2580.2 2085.4h.01M2580.8 2104.0h.01M2581.5 2113.3h.01M2582.8 2099.9h.01M2583.2 2049.5h.01M2584.6 2079.3h.01M2585.2 2065.6h.01M2585.9 2044.4h.01M2587.4 2087.9h.01M2587.7 2118.1h.01M2589.3 2029.5h.01M2589.8 2036.2h.01M2590.6 2024.4h.01M2591.8 2077.8h.01M2592.9 2073.4h.01M2593.3 2046.9h.01M2594.4 2095.9h.01M2595.4 2083.9h.01M2596.0 2102.2h.01M2597.0 2112.7h.01M2598.2 2130.5h.01M2599.0 2119.7h.01M2600.3 2069.4h.01M2600.6 2120.7h.01M2602.2 2132.6h.01M2603.0 2094.0h.01M2603.8 2048.2h.01M2604.3 2088.3h.01M2605.5 2079.2h.01M2606.8 2057.8h.01M2607.7 2129.4h.01M2608.6 2109.8h.01M2609.0 2061.3h.01M2610.0 2086.7h.01M2610.7 2126.6h.01M2612.0 2086.9h.01M2613.0 2017.9h.01M2613.9 2133.8h.01M2615.0 2094.8h.01M2615.5 2038.4h.01M2616.8 2105.4h.01M2617.2 2079.4h.01M2618.6 2089.0h.01M2619.2 2056.7h.01M2619.9 2066.4h.01M2620.9 2064.7h.01M2622.3 2099.5h.01M2623.0 2091.5h.01M2623.7 2119.0h.01M2624.9 2120.6h.01M2626.0 2027.0h.01M2626.8 2054.5h.01M2627.3 2099.7h.01M2628.8 2107.8h.01M2629.3 2112.2h.01M2630.6 2071.1h.01M2631.1 2071.4h.01M2631.9 2129.3h.01M2633.1 2075.3h.01M2633.9 2060.7h.01M2635.3 2110.2h.01M2635.8 2106.1h.01M2636.7 2133.3h.01M2637.6 2105.1h.01M2638.5 2066.4h.01M2639.5 2125.6h.01M2640.5 2071.4h.01M2641.7 2100.9h.01M2642.6 2116.5h.01M2643.0 2066.2h.01M2644.5 2114.0h.01M2644.8 2091.8h.01M2645.8 2088.6h.01M2647.3 2063.7h.01M2647.6 2114.8h.01M2649.0 2089.0h.01M2649.5 2105.2h.01M2650.9 2104.2h.01M2651.5 2036.6h.01M2652.0 2062.8h.01M2653.2 2073.0h.01M2654.2 2077.8h.01M2655.5 2116.0h.01M2656.5 2098.3h.01M2656.7 2082.5h.01M2657.9 2075.3h.01M2658.5 2065.8h.01M2659.6 2091.3h.01M2660.4 2128.2h.01M2661.7 2074.3h.01M2663.0 2104.3h.01M2663.8 2091.5h.01M2664.3 2111.7h.01M2665.1 2082.5h.01M2666.5 2079.2h.01M2667.4 2073.2h.01M2668.1 2120.7h.01M2668.7 2042.7h.01M2670.2 2047.7h.01M2670.6 2080.9h.01M2671.8 2059.3h.01M2673.0 2119.6h.01M2674.0 2116.9h.01M2674.5 2040.1h.01M2675.7 2099.5h.01M2676.1 2065.7h.01M2677.4 2089.9h.01M2678.2 2105.6h.01M2678.9 2062.0h.01M2680.4 2106.0h.01M2681.3 2097.9h.01M2681.6 2100.6h.01M2682.4 2091.3h.01M2684.0 2095.6h.01M2685.0 2080.0h.01M2685.2 2104.2h.01M2686.5 2132.1h.01M2687.4 2072.9h.01M2688.5 2066.7h.01M2689.0 2061.1h.01M2689.9 2066.5h.01M2691.3 2089.2h.01M2691.6 2100.2h.01M2693.2 2086.5h.01M2693.5 2085.2h.01M2695.0 2089.9h.01M2695.3 2083.3h.01M2696.7 2115.9h.01M2697.3 2092.2h.01M2698.2 2103.9h.01M2699.6 2107.6h.01M2700.3 2046.0h.01M2700.9 2121.4h.01M2701.9 2071.0h.01M2703.0 2063.9h.01M2704.2 2082.1h.01M2704.7 2081.8h.01M2705.5 2114.0h.01M2706.8 2109.6h.01M2707.8 2139.3h.01M2708.3 2124.1h.01M2709.6 2143.3h.01M2710.5 2099.6h.01M2711.3 2101.1h.01M2712.1 2078.5h.01M2713.2 2092.4h.01M2713.7 2124.4h.01M2714.6 2124.1h.01M2716.0 2107.5h.01M2717.1 2093.7h.01M2717.9 2069.3h.01M2718.3 2087.1h.01M2719.4 2105.9h.01M2720.2 2074.6h.01M2721.2 2072.6h.01M2722.3 2088.8h.01M2723.3 2056.5h.01M2723.8 2084.4h.01M2725.2 2110.6h.01M2726.0 2088.7h.01M2726.6 2062.5h.01M2727.8 2058.1h.01M2729.0 2089.9h.01M2729.7 2113.2h.01M2730.7 2084.3h.01M2731.2 2089.9h.01M2732.6 2102.8h.01M2733.1 2148.1h.01M2734.4 2086.3h.01M2735.1 2049.3h.01M2735.8 2119.9h.01M2736.8 2134.1h.01M2738.1 2115.1h.01M2739.1 2096.6h.01M2739.8 2132.1h.01M2740.6 2092.3h.01M2741.6 2043.3h.01M2743.0 2135.0h.01M2743.4 2109.2h.01M2744.1 2067.0h.01M2745.5 2114.1h.01M2746.0 2111.0h.01M2747.1 2133.5h.01M2747.7 2090.3h.01M2749.1 2145.0h.01M2750.3 2109.1h.01M2751.0 2129.4h.01M2751.5 2094.5h.01M2752.4 2104.7h.01M2753.3 2066.1h.01M2754.6 2109.1h.01M2755.3 2152.8h.01M2756.3 2113.5h.01M2757.5 2080.7h.01M2758.0 2115.9h.01M2759.1 2147.9h.01M2760.1 2102.4h.01M2761.0 2133.9h.01M2761.7 2107.3h.01M2762.9 2051.2h.01M2763.5 2109.4h.01M2765.0 2088.7h.01M2765.7 2093.3h.01M2766.6 2101.8h.01M2767.4 2118.7h.01M2768.3 2071.1h.01M2769.2 2130.1h.01M2770.2 2104.9h.01M2771.2 2089.9h.01M2772.1 2104.7h.01M2773.3 2073.2h.01M2773.6 2103.2h.01M2775.0 2090.5h.01M2776.0 2140.9h.01M2776.9 2109.8h.01M2777.9 2090.4h.01M2778.3 2097.7h.01M2779.7 2146.0h.01M2780.6 2078.3h.01M2781.0 2102.0h.01M2782.3 2097.8h.01M2783.2 2073.2h.01M2784.1 2142.1h.01M2785.0 2046.9h.01M2785.5 2067.0h.01M2787.0 2098.7h.01M2787.5 2090.9h.01M2788.3 2097.1h.01M2789.4 2130.8h.01M2790.5 2121.6h.01M2791.7 2093.7h.01M2792.5 2115.6h.01M2793.0 2076.5h.01M2793.7 2129.5h.01M2795.1 2143.9h.01M2796.3 2120.0h.01M2796.7 2123.6h.01M2797.4 2139.3h.01M2799.0 2131.5h.01M2799.9 2048.6h.01M2800.1 2099.8h.01M2801.6 2134.3h.01M2802.4 2141.2h.01M2803.2 2106.8h.01M2804.2 2072.6h.01M2805.5 2055.5h.01M2806.0 2098.3h.01M2807.3 2072.0h.01M2807.9 2093.7h.01M2808.6 2067.6h.01M2809.6 2118.8h.01M2810.7 2138.5h.01M2811.7 2059.7h.01M2812.2 2101.5h.01M2813.5 2113.7h.01M2814.0 2069.7h.01M2815.4 2109.2h.01M2816.5 2079.0h.01M2816.9 2064.8h.01M2818.2 2095.1h.01M2819.2 2115.0h.01M2819.7 2115.8h.01M2821.2 2102.0h.01M2821.9 2099.3h.01M2822.8 2100.8h.01M2823.8 2108.8h.01M2824.2 2132.4h.01M2825.5 2116.1h.01M2826.1 2135.0h.01M2827.0 2125.4h.01M2827.8 2093.1h.01M2829.4 2076.9h.01M2829.9 2067.1h.01M2830.9 2140.6h.01M2832.1 2115.9h.01M2832.8 2101.1h.01M2833.6 2070.8h.01M2834.3 2113.6h.01M2835.4 2091.6h.01M2836.5 2138.9h.01M2837.0 2127.2h.01M2838.0 2134.9h.01M2839.3 2101.2h.01M2839.9 2100.1h.01M2840.9 2108.5h.01M2842.1 2082.1h.01M2842.5 2126.3h.01M2843.6 2117.9h.01M2844.4 2134.0h.01M2845.3 2112.3h.01M2846.6 2134.4h.01M2847.4 2112.5h.01M2848.7 2138.8h.01M2849.3 2099.5h.01M2849.9 2129.0h.01M2851.2 2099.6h.01M2852.3 2107.2h.01M2853.2 2093.3h.01M2853.5 2124.5h.01M2854.4 2101.0h.01M2855.4 2105.6h.01M2856.6 2107.7h.01M2857.3 2137.0h.01M2858.7 2098.7h.01M2859.3 2145.6h.01M2860.2 2084.3h.01M2860.9 2098.9h.01M2861.9 2116.3h.01M2863.3 2152.2h.01M2864.2 2102.9h.01M2865.1 2119.5h.01M2865.9 2118.3h.01M2866.7 2134.6h.01M2868.0 2095.5h.01M2869.0 2132.9h.01M2869.3 2103.0h.01M2870.2 2121.1h.01M2871.4 2125.4h.01M2872.6 2093.0h.01M2873.4 2116.7h.01M2874.1 2060.4h.01M2875.1 2112.2h.01M2875.6 2147.8h.01M2877.0 2092.8h.01M2877.4 2104.0h.01M2878.5 2116.7h.01M2879.8 2137.5h.01M2880.9 2098.5h.01M2881.7 2057.7h.01M2882.4 2124.6h.01M2883.2 2093.6h.01M2884.4 2128.0h.01M2885.2 2106.5h.01M2885.8 2095.5h.01M2887.2 2087.1h.01M2887.9 2095.5h.01M2889.0 2084.6h.01M2889.5 2092.9h.01M2890.4 2096.5h.01M2892.0 2078.4h.01M2892.5 2091.5h.01M2893.3 2068.7h.01M2894.1 2126.4h.01M2895.2 2142.9h.01M2896.0 2094.8h.01M2897.1 2096.3h.01M2898.1 2133.9h.01M2898.6 2087.4h.01M2899.5 2073.9h.01M2900.8 2130.8h.01M2901.7 2115.3h.01M2902.3 2115.3h.01M2903.2 2123.9h.01M2904.6 2119.9h.01M2905.3 2113.9h.01M2906.2 2073.6h.01M2907.6 2109.0h.01M2907.9 2074.4h.01M2908.7 2137.2h.01M2910.0 2128.3h.01M2911.0 2144.4h.01M2912.0 2111.8h.01M2913.1 2125.4h.01M2914.0 2127.3h.01M2914.4 2103.7h.01M2915.1 2117.7h.01M2916.6 2127.5h.01M2917.0 2090.3h.01M2918.4 2136.7h.01M2919.4 2128.1h.01M2920.5 2118.5h.01M2920.9 2115.1h.01M2921.7 2078.6h.01M2923.0 2100.9h.01M2924.1 2143.6h.01M2925.0 2083.0h.01M2925.3 2122.2h.01M2926.9 2125.3h.01M2927.5 2141.2h.01M2928.4 2066.6h.01M2929.4 2087.6h.01M2930.3 2065.1h.01M2930.7 2077.1h.01M2932.3 2137.9h.01M2932.9 2091.8h.01M2933.6 2136.2h.01M2934.9 2118.5h.01M2936.1 2132.2h.01M2936.7 2076.7h.01M2937.7 2150.8h.01M2938.5 2118.8h.01M2939.8 2141.6h.01M2940.4 2131.0h.01M2941.4 2113.8h.01M2942.1 2105.1h.01M2943.4 2098.8h.01M2943.6 2132.8h.01M2945.1 2112.1h.01M2945.9 2057.5h.01M2947.1 2115.1h.01M2947.9 2088.3h.01M2948.2 2105.3h.01M2949.6 2113.5h.01M2950.3 2057.2h.01M2951.0 2059.5h.01M2952.5 2145.4h.01M2953.5 2098.7h.01M2954.5 2131.6h.01M2954.9 2108.4h.01M2955.9 2124.4h.01M2957.2 2142.2h.01M2958.2 2115.6h.01M2959.1 2122.0h.01M2959.9 2114.7h.01M2960.4 2085.2h.01M2961.7 2125.3h.01M2962.4 2100.6h.01M2963.4 2100.1h.01M2964.3 2125.4h.01M2965.2 2094.8h.01M2965.7 2100.6h.01M2967.3 2122.0h.01M2967.8 2102.9h.01M2968.5 2116.2h.01M2969.9 2101.5h.01M2970.8 2081.3h.01M2971.8 2131.1h.01M2972.7 2132.9h.01M2973.7 2105.6h.01M2974.1 2119.8h.01M2975.6 2161.1h.01M2976.4 2072.3h.01M2977.3 2090.1h.01M2977.7 2118.1h.01M2979.2 2127.9h.01M2980.0 2113.5h.01M2980.7 2141.5h.01M2981.7 2136.7h.01M2982.7 2114.8h.01M2983.9 2106.0h.01M2984.5 2109.7h.01M2985.1 2099.3h.01M2986.0 2061.1h.01M2987.5 2074.0h.01M2988.3 2118.9h.01M2989.2 2077.5h.01M2990.0 2159.2h.01M2990.6 2094.5h.01M2991.8 2100.5h.01M2992.9 2119.4h.01M2993.9 2145.7h.01M2994.3 2106.3h.01M2995.2 2090.3h.01M2996.6 2075.1h.01M2997.6 2106.3h.01M2998.5 2127.2h.01M2999.1 2083.5h.01M2999.9 2149.0h.01M3001.4 2091.1h.01M3002.2 2138.1h.01M3003.1 2144.0h.01M3003.9 2060.4h.01M3004.5 2142.7h.01M3005.6 2112.9h.01M3006.8 2100.0h.01M3007.8 2089.3h.01M3008.4 2131.4h.01M3009.2 2120.2h.01M3010.3 2139.5h.01M3011.1 2076.8h.01M3011.8 2065.0h.01M3012.7 2100.6h.01M3013.8 2105.3h.01M3014.5 2122.9h.01M3016.0 2095.3h.01M3016.4 2148.7h.01M3017.6 2152.6h.01M3018.3 2135.1h.01M3019.6 2136.3h.01M3020.7 2115.4h.01M3021.1 2124.6h.01M3022.1 2141.9h.01M3022.7 2115.3h.01M3024.1 2091.2h.01M3024.7 2101.6h.01M3025.7 2111.2h.01M3027.1 2118.9h.01M3027.3 2135.5h.01M3029.0 2094.5h.01M3029.6 2121.2h.01M3030.8 2145.7h.01M3031.1 2149.5h.01M3032.2 2078.0h.01M3033.0 2087.6h.01M3034.0 2098.3h.01M3034.7 2110.1h.01M3035.9 2130.9h.01M3036.5 2148.2h.01M3037.7 2151.8h.01M3038.8 2141.7h.01M3039.9 2078.2h.01M3040.7 2110.5h.01M3041.8 2116.6h.01M3042.4 2127.1h.01M3043.1 2100.4h.01M3044.3 2128.3h.01M3045.5 2126.5h.01M3046.3 2101.6h.01M3047.1 2150.5h.01M3047.8 2108.2h.01M3049.0 2126.5h.01M3049.8 2143.8h.01M3050.8 2142.1h.01M3051.9 2138.2h.01M3052.8 2099.5h.01M3053.7 2098.6h.01M3054.6 2088.0h.01M3055.4 2107.9h.01M3056.3 2086.2h.01M3056.8 2078.5h.01M3058.2 2124.1h.01M3059.3 2142.6h.01M3060.0 2135.8h.01M3061.2 2131.3h.01M3061.4 2086.0h.01M3062.6 2085.2h.01M3063.6 2140.5h.01M3064.9 2106.5h.01M3065.5 2136.6h.01M3066.2 2124.4h.01M3067.6 2074.4h.01M3068.1 2117.4h.01M3069.3 2115.8h.01M3069.8 2110.3h.01M3070.6 2091.0h.01M3071.5 2093.3h.01M3072.6 2091.4h.01M3073.5 2078.0h.01M3074.8 2134.6h.01M3075.2 2135.3h.01M3076.7 2135.3h.01M3077.3 2092.9h.01M3077.9 2112.0h.01M3079.5 2125.4h.01M3080.3 2113.4h.01M3080.9 2120.7h.01M3081.7 2070.6h.01M3082.7 2134.7h.01M3083.9 2114.0h.01M3084.8 2103.3h.01M3085.4 2114.8h.01M3086.6 2110.8h.01M3087.1 2144.0h.01M3088.5 2147.2h.01M3089.5 2069.2h.01M3090.2 2125.2h.01M3090.9 2087.0h.01M3091.8 2120.6h.01M3093.3 2127.8h.01M3093.7 2091.0h.01M3094.9 2070.4h.01M3095.9 2134.0h.01M3096.4 2086.0h.01M3097.4 2128.5h.01M3098.2 2117.2h.01M3099.6 2113.2h.01M3100.8 2101.8h.01M3101.1 2072.1h.01M3102.5 2154.3h.01M3103.0 2094.6h.01M3104.4 2073.7h.01M3105.1 2092.3h.01M3105.6 2131.1h.01M3106.6 2153.7h.01M3107.9 2110.0h.01M3108.3 2124.1h.01M3109.9 2105.5h.01M3110.5 2119.8h.01M3111.7 2138.9h.01M3112.0 2115.5h.01M3113.0 2075.9h.01M3113.9 2096.0h.01M3114.8 2083.6h.01M3115.6 2128.8h.01M3116.8 2129.3h.01M3117.6 2108.6h.01M3118.6 2144.8h.01M3119.3 2145.1h.01M3120.2 2142.5h.01M3121.6 2126.2h.01M3122.8 2104.6h.01M3123.7 2141.8h.01M3124.6 2088.7h.01M3125.4 2079.3h.01M3126.3 2111.8h.01M3126.8 2125.0h.01M3128.2 2102.0h.01M3129.1 2117.2h.01M3129.6 2147.4h.01M3130.6 2132.5h.01M3132.0 2092.2h.01M3132.4 2076.0h.01M3133.1 2107.8h.01M3134.1 2090.3h.01M3135.3 2153.9h.01M3136.1 2148.2h.01M3136.8 2120.0h.01M3137.8 2152.0h.01M3138.9 2091.7h.01M3139.9 2118.9h.01M3140.5 2067.9h.01M3142.1 2142.8h.01M3143.0 2083.7h.01M3143.3 2096.6h.01M3144.5 2119.8h.01M3145.7 2109.8h.01M3146.6 2120.6h.01M3147.4 2088.2h.01M3148.1 2121.5h.01M3149.0 2093.5h.01M3149.8 2115.0h.01M3151.2 2155.0h.01M3152.1 2136.6h.01M3152.4 2077.0h.01M3153.4 2138.6h.01M3154.5 2156.0h.01M3155.8 2125.7h.01M3156.1 2062.1h.01M3157.5 2089.8h.01M3158.4 2147.1h.01M3159.5 2131.2h.01M3159.9 2125.2h.01M3161.3 2146.9h.01M3162.3 2126.5h.01M3163.1 2129.3h.01M3164.1 2132.1h.01M3164.8 2090.4h.01M3165.8 2098.3h.01M3166.2 2125.6h.01M3167.5 2108.1h.01M3168.1 2133.6h.01M3169.1 2087.1h.01M3170.0 2126.8h.01M3171.2 2085.4h.01M3172.4 2090.0h.01M3172.8 2117.2h.01M3173.9 2152.9h.01M3174.5 2106.9h.01M3175.4 2132.9h.01M3176.3 2146.1h.01M3177.8 2103.6h.01M3178.5 2104.5h.01M3179.3 2089.4h.01M3180.2 2072.2h.01M3181.2 2110.0h.01M3182.4 2126.2h.01M3183.3 2103.9h.01M3184.1 2130.2h.01M3185.1 2121.0h.01M3185.9 2078.1h.01M3186.5 2110.5h.01M3187.8 2082.6h.01M3188.6 2107.5h.01M3189.5 2101.7h.01M3190.8 2090.0h.01M3191.7 2098.5h.01M3192.6 2155.8h.01M3193.6 2119.0h.01M3194.6 2078.4h.01M3195.4 2124.8h.01M3196.2 2128.8h.01M3197.0 2102.0h.01M3197.5 2100.4h.01M3198.7 2061.0h.01M3199.9 2132.0h.01M3200.9 2152.0h.01M3201.5 2120.8h.01M3202.8 2106.2h.01M3203.5 2100.1h.01M3204.0 2084.5h.01M3205.4 2070.3h.01M3206.3 2116.7h.01M3207.2 2140.2h.01M3207.7 2138.4h.01M3209.0 2139.4h.01M3209.6 2150.3h.01M2072.9 808.3h.01M2071.1 891.4h.01M2074.8 950.2h.01M2078.4 993.4h.01M2069.3 1054.4h.01M2067.3 1062.0h.01M2069.1 1086.5h.01M2084.5 1097.9h.01M2072.9 1106.9h.01M2074.9 1111.5h.01M2080.5 1124.5h.01M2080.5 1147.3h.01M2093.9 1147.3h.01M2088.1 1158.3h.01M2076.9 1168.1h.01M2065.5 1177.3h.01M2055.9 1181.3h.01M2112.9 1186.9h.01M2076.7 1190.4h.01M2090.1 1199.8h.01M2091.9 1211.2h.01M2066.9 1220.8h.01M2097.7 1224.6h.01M2103.3 1243.4h.01M2044.5 1247.4h.01M2107.1 1255.2h.01M2091.9 1254.8h.01M2053.5 1262.4h.01M2071.3 1260.8h.01M2061.9 1273.8h.01M2083.9 1277.8h.01M2119.9 1281.2h.01M2078.9 1286.8h.01M2099.9 1290.8h.01M2116.5 1292.8h.01M2065.9 1298.3h.01M2108.9 1304.3h.01M2053.3 1305.7h.01M2102.9 1308.7h.01M2060.9 1317.7h.01M2063.9 1326.7h.01M2085.9 1328.7h.01M2101.9 1333.7h.01M2050.9 1335.7h.01M2091.9 1337.7h.01M2047.9 1347.7h.01M2082.5 1347.7h.01M2104.9 1335.0h.01M2046.9 1349.4h.01M2047.9 1362.6h.01M2088.1 1362.6h.01M2058.9 1371.0h.01M2108.9 1374.4h.01M2124.3 1374.4h.01M2093.9 1378.0h.01M2061.9 1381.6h.01M2082.5 1396.9h.01M2115.3 1410.5h.01M2040.5 1413.9h.01M2098.9 1399.9h.01M2114.9 1427.3h.01M2102.9 1434.9h.01M2046.9 1444.3h.01M2063.5 1459.5h.01M2112.9 1460.9h.01M2059.9 1470.9h.01M2120.9 1473.9h.01M2122.3 1479.9h.01M2054.3 1480.9h.01M2122.9 1489.9h.01M2104.9 1491.5h.01M2040.9 1492.9h.01M2032.9 1498.9h.01M2032.9 1506.8h.01M2029.0 1533.4h.01M2036.5 1531.4h.01M2126.5 1533.4h.01M2037.9 1542.8h.01M2037.9 1552.4h.01M2106.9 1546.4h.01M2110.5 1559.8h.01M2150.4 1565.4h.01M2025.6 1571.2h.01M2116.9 1582.8h.01M2133.9 1584.8h.01M2035.0 1588.4h.01M2132.9 1590.8h.01M2027.4 1599.8h.01M2031.6 1605.8h.01M2128.9 1607.8h.01M2020.0 1620.4h.01M2123.9 1618.8h.01M2132.9 1624.8h.01M2025.6 1631.8h.01M2139.9 1631.8h.01M2144.9 1640.8h.01M2163.9 1641.2h.01M2031.0 1643.4h.01M2138.9 1643.8h.01M2146.9 1654.2h.01M2023.6 1667.4h.01M2028.0 1694.0h.01M2023.0 1699.3h.01M2020.0 1707.0h.01M2028.0 1711.0h.01M2022.0 1722.3h.01M2021.6 1766.3h.01M2020.0 1792.9h.01M2154.2 1671.0h.01M2146.9 1678.6h.01M2128.9 1683.0h.01M2132.9 1672.0h.01M2129.5 1700.0h.01M2126.1 1720.5h.01M2186.8 1729.9h.01M2138.9 1737.3h.01M2157.8 1741.3h.01M2182.8 1741.9h.01M2190.8 1741.9h.01M2167.8 1752.5h.01M2135.5 1764.3h.01M2149.9 1769.9h.01M2173.4 1771.9h.01M2169.4 1784.3h.01M2144.9 1792.9h.01M2173.4 1796.3h.01M2193.8 1796.3h.01M2142.3 1800.9h.01M2140.9 1807.9h.01M2182.8 1816.8h.01M2159.8 1817.8h.01M2170.8 1817.8h.01M2197.8 1824.2h.01M2182.8 1829.8h.01M2137.9 1839.8h.01M2143.9 1837.8h.01M2156.8 1856.8h.01M2161.8 1859.8h.01M2177.8 1852.8h.01M2163.8 1866.8h.01M2185.8 1863.8h.01M2148.9 1875.8h.01M2197.8 1872.8h.01M2187.8 1878.8h.01M2156.8 1886.8h.01M2165.8 1883.8h.01M2159.8 1892.8h.01M2174.8 1893.8h.01M2179.8 1897.8h.01M2150.4 1903.8h.01M2169.8 1905.8h.01M2177.8 1907.8h.01M2174.8 1915.8h.01M2151.8 1915.8h.01M2157.8 1920.8h.01M2188.8 1916.8h.01M2162.8 1925.8h.01M2171.8 1924.8h.01M2187.8 1930.8h.01M2154.4 1938.8h.01M2198.8 1956.8h.01M2192.8 1966.8h.01M2209.4 1728.3h.01M2205.4 1770.1h.01M2215.2 1797.9h.01M2208.1 1807.8h.01M2213.6 1809.7h.01M2217.1 1838.1h.01M2217.1 1844.0h.01M2206.5 1857.4h.01M2213.6 1861.4h.01M2231.7 1868.4h.01M2199.4 1871.6h.01M2219.1 1870.3h.01M2205.0 1866.9h.01M2216.8 1883.4h.01M2201.8 1887.3h.01M2193.9 1888.9h.01M2251.1 1900.4h.01M2219.1 1899.9h.01M2210.5 1905.4h.01M2221.5 1910.2h.01M2215.2 1915.7h.01M2236.4 1915.7h.01M2256.6 1913.6h.01M2269.5 1919.6h.01M2260.8 1923.6h.01M2228.6 1926.7h.01M2232.5 1933.0h.01M2234.1 1936.9h.01M2254.5 1928.3h.01M2257.7 1933.0h.01M2259.3 1937.7h.01M2282.9 1934.6h.01M2299.9 1938.5h.01M2209.7 1932.2h.01M2315.2 1949.5h.01M2249.8 1947.2h.01M2253.0 1951.9h.01M2282.9 1954.2h.01M2295.5 1953.5h.01M2298.6 1958.2h.01M2200.2 1956.6h.01M2229.4 1955.0h.01M2237.2 1955.8h.01M2327.0 1959.0h.01M2183.5 1730.5h.01M2303.9 1846.0h.01M2271.2 1858.7h.01M2298.4 1877.9h.01M2256.7 1887.0h.01M2394.7 1902.2h.01M2339.5 1913.5h.01M2319.1 1930.6h.01M2343.1 1946.2h.01M2396.5 1955.3h.01M2474.5 1955.3h.01M2480.0 1957.8h.01M2525.4 1960.7h.01M2608.9 1965.1h.01M2481.8 1974.1h.01M2550.1 1976.0h.01M2498.9 1987.9h.01M2440.0 1981.4h.01M2447.3 1990.5h.01M2196.0 2025.0h.01M2241.1 2070.4h.01M2285.0 2110.3h.01M2328.6 2124.8h.01M2518.1 2157.5h.01M2574.4 2157.5h.01M2621.6 2153.9h.01M2638.7 2176.4h.01M2725.7 1977.9h.01M2705.0 1995.0h.01M2710.9 2002.2h.01M2672.7 2009.9h.01M2684.3 2017.9h.01M2731.6 2009.9h.01M2708.7 2017.9h.01M2733.4 2022.6h.01M2820.5 2005.2h.01M2832.1 2000.4h.01M2850.6 2004.4h.01M3024.9 2019.3h.01M3178.2 2017.9h.01M2920.4 2037.8h.01M2975.6 2038.6h.01M3083.0 2048.0h.01M3178.2 2050.5h.01M3187.2 2056.0h.01M2905.8 2206.7h.01M2820.5 2171.1h.01M3113.9 2180.2h.01M3148.0 2178.7h.01M2723.2 2161.3h.01M755.7 2074.5h.01M736.1 2086.6h.01M749.5 2085.3h.01M742.8 2092.0h.01M777.7 2089.3h.01M779.6 2097.3h.01M854.2 2068.6h.01M844.8 2085.3h.01M850.9 2083.9h.01M842.1 2096.5h.01M919.9 2083.9h.01M942.7 2063.0h.01M958.3 2064.3h.01M956.1 2074.5h.01M1025.9 2089.3h.01M1032.6 2093.3h.01M1080.9 2059.2h.01M1084.9 2078.0h.01M1094.3 2078.0h.01M1111.2 2067.0h.01M1158.7 2062.5h.01M1152.6 2072.6h.01M1164.1 2072.6h.01M1170.8 2079.9h.01M1140.0 2089.3h.01M1145.3 2085.3h.01M1150.7 2096.0h.01M1259.4 2065.9h.01M1270.1 2071.8h.01M1258.8 2074.5h.01M1311.7 2079.9h.01M1305.0 2092.0h.01M742.0 2180.5h.01M758.9 2184.5h.01M756.2 2175.2h.01M752.2 2196.1h.01M771.0 2201.4h.01M782.3 2176.5h.01M823.3 2172.5h.01M821.4 2185.9h.01M867.6 2179.2h.01M877.0 2179.2h.01M891.7 2181.1h.01M905.2 2182.4h.01M901.1 2216.7h.01M934.7 2196.1h.01M963.7 2195.3h.01M963.7 2204.7h.01M977.1 2178.6h.01M977.1 2201.4h.01M1028.1 2180.5h.01M1090.3 2180.5h.01M1113.1 2204.7h.01M1179.4 2176.5h.01M1200.3 2176.5h.01M1211.1 2176.5h.01M1233.9 2183.7h.01M1305.0 2201.4h.01M1271.4 2179.2h.01M1435.4 2008.2h.01M1329.4 2065.1h.01M1419.8 2068.6h.01M1377.7 2073.2h.01M1372.3 2082.6h.01M1324.0 2085.3h.01M1348.2 2091.4h.01M1362.9 2090.6h.01M1397.3 2090.6h.01M1450.1 2092.5h.01M1514.5 2070.5h.01M1573.0 2083.9h.01M1588.3 2090.6h.01M1616.5 2074.5h.01M1635.3 2087.9h.01M1660.3 2087.4h.01M1676.9 2040.2h.01M1686.3 2086.6h.01M1705.6 2083.4h.01M1732.4 2062.5h.01M1734.1 2077.7h.01M1756.6 2076.4h.01M1807.8 2083.9h.01M1819.1 2086.6h.01M1836.6 2055.2h.01M1834.4 2084.5h.01M1863.4 2062.5h.01M1885.4 2079.9h.01M1912.5 2047.7h.01M1905.0 2093.3h.01M1332.9 2176.0h.01M1376.4 2181.9h.01M1398.6 2180.5h.01M1415.3 2176.0h.01M1442.1 2183.7h.01M1478.3 2188.6h.01M1490.4 2187.2h.01M1498.4 2181.1h.01M1552.1 2171.1h.01M1644.7 2180.5h.01M1675.6 2172.5h.01M1691.7 2172.5h.01M1707.2 2180.0h.01M1719.0 2226.1h.01M1798.5 2178.6h.01M1840.0 2181.9h.01M1848.6 2175.2h.01M1856.7 2176.5h.01M2347.5 1975.7h.01M2326.4 1960.0h.01M2322.1 1970.8h.01M2788.0 2032.6h.01M2760.1 2036.3h.01M2345.8 2097.0h.01M2364.4 2125.3h.01M2393.0 2132.9h.01M2420.9 2128.6h.01M2444.1 2140.4h.01M2455.7 2132.4h.01M2464.9 2138.7h.01M2502.5 2132.9h.01M2578.2 2138.7h.01M2633.0 2147.9h.01M2661.3 2157.6h.01M2724.6 2161.8h.01M2687.1 2142.5h.01M2747.2 2145.7h.01M2781.5 2147.9h.01M2815.0 2031.0h.01M2818.7 2040.2h.01M2822.2 2050.5h.01M2866.0 2049.9h.01M2881.2 2054.6h.01M2918.2 2040.8h.01M2923.0 2058.7h.01M2996.0 2057.7h.01M3060.8 2056.7h.01M3084.5 2062.9h.01M3182.2 2063.9h.01M3200.7 2071.1h.01M2961.0 2060.8h.01M3018.6 2060.8h.01M2835.5 2157.5h.01M2898.3 2164.7h.01M2892.1 2154.4h.01M2948.7 2163.7h.01M2955.9 2163.7h.01M3004.2 2163.3h.01M2986.7 2155.4h.01M3036.1 2162.6h.01M3068.0 2161.2h.01M3089.6 2164.7h.01M3129.7 2167.8h.01M3157.5 2164.7h.01M3171.9 2160.6h.01M3202.8 2155.4h.01M3052.6 2157.5h.01" stroke="#7030A0" stroke-width="12.2" stroke-linecap="round" fill="none"/>
<path id="curve" d="M735.80 2140.40C743.52 2140.36 751.24 2140.32 758.96 2140.28C766.68 2140.25 774.39 2140.21 782.11 2140.17C789.83 2140.13 797.55 2140.09 805.27 2140.05C812.98 2140.02 820.70 2139.98 828.42 2139.94C836.13 2139.90 843.85 2139.86 851.57 2139.83C859.28 2139.79 867.00 2139.75 874.71 2139.72C882.43 2139.68 890.14 2139.64 897.86 2139.60C905.57 2139.57 913.29 2139.53 921.00 2139.49C928.72 2139.46 936.43 2139.42 944.15 2139.39C951.86 2139.35 959.58 2139.31 967.29 2139.28C975.00 2139.24 982.72 2139.21 990.43 2139.17C998.14 2139.14 1005.86 2139.10 1013.57 2139.07C1021.28 2139.03 1029.00 2139.00 1036.71 2138.97C1044.42 2138.93 1052.14 2138.90 1059.85 2138.87C1067.56 2138.83 1075.27 2138.80 1082.99 2138.77C1090.70 2138.73 1098.41 2138.70 1106.12 2138.67C1113.84 2138.64 1121.55 2138.60 1129.26 2138.57C1136.97 2138.54 1144.69 2138.51 1152.40 2138.48C1160.11 2138.45 1167.82 2138.42 1175.53 2138.39C1183.25 2138.36 1190.96 2138.33 1198.67 2138.30C1206.38 2138.27 1214.10 2138.24 1221.81 2138.21C1229.52 2138.18 1237.23 2138.16 1244.95 2138.13C1252.66 2138.10 1260.37 2138.07 1268.08 2138.04C1275.80 2138.02 1283.51 2137.99 1291.22 2137.96C1298.93 2137.94 1306.65 2137.91 1314.36 2137.89C1322.07 2137.86 1329.79 2137.84 1337.50 2137.81C1345.21 2137.79 1352.93 2137.76 1360.64 2137.74C1368.35 2137.72 1376.07 2137.69 1383.78 2137.67C1391.50 2137.65 1399.21 2137.63 1406.93 2137.61C1414.64 2137.58 1422.35 2137.56 1430.07 2137.54C1437.78 2137.52 1445.50 2137.50 1453.21 2137.48C1460.93 2137.46 1468.65 2137.44 1476.36 2137.42C1484.08 2137.41 1491.79 2137.39 1499.51 2137.37C1507.23 2137.35 1514.94 2137.34 1522.66 2137.32C1530.38 2137.30 1538.09 2137.29 1545.81 2137.28C1553.53 2137.26 1561.25 2137.25 1568.97 2137.24C1576.68 2137.23 1584.40 2137.22 1592.12 2137.21C1599.84 2137.20 1607.56 2137.20 1615.28 2137.20C1623.00 2137.19 1630.72 2137.19 1638.44 2137.19C1646.16 2137.20 1653.88 2137.20 1661.61 2137.21C1669.33 2137.22 1677.05 2137.23 1684.77 2137.24C1692.49 2137.26 1700.22 2137.27 1707.94 2137.30C1715.66 2137.32 1723.39 2137.34 1731.11 2137.37C1738.84 2137.40 1746.56 2137.44 1754.29 2137.47C1762.01 2137.51 1769.74 2137.56 1777.46 2137.60C1785.19 2137.65 1792.92 2137.70 1800.65 2137.76C1808.37 2137.82 1816.10 2137.88 1823.83 2137.95C1831.56 2138.02 1839.29 2138.09 1847.02 2138.17C1854.75 2138.25 1862.48 2138.34 1870.21 2138.43C1876.92 2138.51 1883.63 2138.60 1890.35 2138.69C1891.37 2138.70 1892.39 2138.71 1893.40 2138.72C1894.90 2138.74 1896.40 2138.75 1897.90 2138.76C1900.41 2138.76 1902.91 2138.73 1905.38 2138.63C1907.86 2138.54 1910.32 2138.38 1912.74 2138.12C1913.88 2138.00 1915.01 2137.86 1916.14 2137.69C1917.40 2137.50 1918.65 2137.28 1919.89 2137.03C1922.23 2136.54 1924.53 2135.93 1926.77 2135.15C1929.02 2134.37 1931.20 2133.43 1933.33 2132.30C1934.47 2131.68 1935.59 2131.01 1936.69 2130.28C1937.64 2129.66 1938.57 2128.98 1939.48 2128.26C1941.45 2126.70 1943.35 2124.90 1945.17 2122.94C1946.99 2120.98 1948.74 2118.86 1950.42 2116.67C1951.43 2115.35 1952.42 2114.00 1953.39 2112.65C1954.02 2111.77 1954.64 2110.88 1955.24 2110.01C1956.79 2107.77 1958.27 2105.58 1959.69 2103.46C1961.11 2101.35 1962.47 2099.29 1963.78 2097.24C1964.66 2095.86 1965.51 2094.48 1966.35 2093.08C1966.75 2092.40 1967.15 2091.72 1967.55 2091.03C1968.76 2088.92 1969.91 2086.77 1971.03 2084.58C1972.15 2082.40 1973.22 2080.17 1974.26 2077.91C1975.03 2076.24 1975.77 2074.55 1976.50 2072.85C1976.76 2072.25 1977.01 2071.66 1977.26 2071.06C1978.23 2068.75 1979.17 2066.41 1980.08 2064.07C1980.99 2061.72 1981.87 2059.36 1982.73 2056.99C1983.43 2055.07 1984.11 2053.16 1984.79 2051.24C1984.94 2050.78 1985.10 2050.32 1985.26 2049.86C1986.09 2047.48 1986.89 2045.10 1987.67 2042.71C1988.46 2040.32 1989.23 2037.92 1989.97 2035.52C1990.63 2033.42 1991.27 2031.32 1991.90 2029.21C1991.99 2028.91 1992.08 2028.61 1992.17 2028.31C1992.88 2025.90 1993.58 2023.48 1994.26 2021.07C1994.94 2018.65 1995.60 2016.23 1996.25 2013.80C1996.86 2011.51 1997.46 2009.23 1998.05 2006.93C1998.08 2006.79 1998.12 2006.65 1998.15 2006.51C1998.77 2004.08 1999.38 2001.64 1999.96 1999.20C2000.55 1996.75 2001.13 1994.31 2001.69 1991.86C2002.25 1989.41 2002.80 1986.96 2003.34 1984.51C2003.34 1984.48 2003.35 1984.46 2003.35 1984.44C2003.88 1982.01 2004.40 1979.57 2004.91 1977.13C2005.42 1974.67 2005.92 1972.21 2006.41 1969.74C2006.89 1967.28 2007.37 1964.81 2007.84 1962.34C2007.87 1962.15 2007.91 1961.96 2007.94 1961.77C2008.37 1959.49 2008.79 1957.20 2009.21 1954.92C2009.65 1952.44 2010.09 1949.96 2010.52 1947.48C2010.95 1945.00 2011.37 1942.52 2011.78 1940.04C2011.84 1939.68 2011.89 1939.32 2011.95 1938.97C2012.30 1936.84 2012.65 1934.71 2012.98 1932.58C2013.38 1930.10 2013.77 1927.61 2014.15 1925.12C2014.53 1922.63 2014.90 1920.14 2015.27 1917.65C2015.35 1917.12 2015.43 1916.60 2015.50 1916.07C2015.79 1914.10 2016.08 1912.14 2016.36 1910.17C2016.72 1907.68 2017.07 1905.18 2017.42 1902.69C2017.76 1900.19 2018.11 1897.70 2018.45 1895.20C2018.54 1894.51 2018.63 1893.82 2018.73 1893.12C2018.97 1891.32 2019.21 1889.52 2019.45 1887.72C2019.78 1885.22 2020.11 1882.73 2020.43 1880.23C2020.76 1877.73 2021.08 1875.24 2021.40 1872.74C2021.51 1871.88 2021.62 1871.01 2021.72 1870.15C2021.93 1868.52 2022.13 1866.88 2022.34 1865.25C2022.65 1862.75 2022.95 1860.25 2023.26 1857.75C2023.56 1855.26 2023.86 1852.76 2024.16 1850.26C2024.28 1849.23 2024.40 1848.20 2024.52 1847.17C2024.69 1845.70 2024.87 1844.23 2025.04 1842.76C2025.32 1840.27 2025.61 1837.77 2025.89 1835.27C2026.18 1832.77 2026.46 1830.27 2026.73 1827.77C2026.87 1826.57 2027.00 1825.37 2027.13 1824.17C2027.27 1822.87 2027.41 1821.57 2027.55 1820.27C2027.82 1817.77 2028.09 1815.27 2028.35 1812.76C2028.62 1810.26 2028.88 1807.76 2029.13 1805.26C2029.27 1803.89 2029.41 1802.53 2029.55 1801.16C2029.67 1800.02 2029.78 1798.89 2029.90 1797.76C2030.15 1795.25 2030.40 1792.75 2030.64 1790.25C2030.89 1787.75 2031.13 1785.24 2031.37 1782.74C2031.52 1781.20 2031.66 1779.67 2031.81 1778.13C2031.90 1777.16 2031.99 1776.20 2032.08 1775.23C2032.31 1772.73 2032.54 1770.23 2032.77 1767.72C2033.00 1765.22 2033.22 1762.71 2033.45 1760.21C2033.60 1758.50 2033.75 1756.80 2033.90 1755.09C2033.97 1754.29 2034.04 1753.49 2034.11 1752.70C2034.32 1750.19 2034.54 1747.69 2034.75 1745.18C2034.96 1742.68 2035.17 1740.17 2035.38 1737.66C2035.53 1735.79 2035.68 1733.91 2035.84 1732.04C2035.89 1731.41 2035.94 1730.78 2035.99 1730.15C2036.19 1727.64 2036.39 1725.13 2036.59 1722.63C2036.78 1720.12 2036.98 1717.62 2037.17 1715.11C2037.32 1713.06 2037.48 1711.02 2037.63 1708.97C2037.67 1708.51 2037.70 1708.05 2037.74 1707.59C2037.92 1705.08 2038.11 1702.57 2038.29 1700.06C2038.47 1697.56 2038.65 1695.05 2038.83 1692.54C2038.98 1690.33 2039.14 1688.11 2039.29 1685.90C2039.31 1685.60 2039.33 1685.31 2039.35 1685.01C2039.53 1682.51 2039.70 1680.00 2039.87 1677.49C2040.04 1674.98 2040.20 1672.47 2040.37 1669.96C2040.52 1667.58 2040.68 1665.19 2040.83 1662.81C2040.84 1662.68 2040.85 1662.56 2040.85 1662.43C2041.01 1659.92 2041.17 1657.41 2041.33 1654.90C2041.49 1652.39 2041.64 1649.88 2041.79 1647.37C2041.94 1644.86 2042.10 1642.35 2042.24 1639.84C2042.25 1639.79 2042.25 1639.75 2042.25 1639.71C2042.40 1637.24 2042.54 1634.77 2042.68 1632.30C2042.83 1629.79 2042.97 1627.28 2043.11 1624.77C2043.25 1622.26 2043.39 1619.74 2043.53 1617.23C2043.54 1617.02 2043.55 1616.81 2043.57 1616.60C2043.69 1614.30 2043.82 1612.00 2043.94 1609.70C2044.07 1607.18 2044.21 1604.67 2044.34 1602.16C2044.47 1599.65 2044.60 1597.13 2044.72 1594.62C2044.74 1594.24 2044.76 1593.86 2044.78 1593.48C2044.89 1591.35 2045.00 1589.21 2045.10 1587.08C2045.23 1584.57 2045.35 1582.06 2045.47 1579.54C2045.59 1577.03 2045.71 1574.52 2045.83 1572.00C2045.86 1571.45 2045.88 1570.90 2045.91 1570.35C2046.00 1568.39 2046.09 1566.42 2046.18 1564.46C2046.30 1561.95 2046.41 1559.43 2046.52 1556.92C2046.64 1554.41 2046.75 1551.89 2046.86 1549.38C2046.89 1548.66 2046.92 1547.94 2046.95 1547.22C2047.03 1545.43 2047.11 1543.63 2047.19 1541.84C2047.29 1539.32 2047.40 1536.81 2047.50 1534.29C2047.61 1531.78 2047.71 1529.27 2047.81 1526.75C2047.85 1525.86 2047.89 1524.97 2047.92 1524.09C2047.99 1522.46 2048.05 1520.83 2048.12 1519.21C2048.22 1516.69 2048.32 1514.18 2048.42 1511.67C2048.51 1509.15 2048.61 1506.64 2048.71 1504.12C2048.75 1503.06 2048.79 1502.01 2048.83 1500.95C2048.88 1499.49 2048.94 1498.04 2048.99 1496.58C2049.09 1494.06 2049.18 1491.55 2049.27 1489.04C2049.36 1486.52 2049.45 1484.01 2049.54 1481.49C2049.59 1480.27 2049.63 1479.04 2049.67 1477.81C2049.72 1476.52 2049.76 1475.24 2049.81 1473.95C2049.90 1471.43 2049.99 1468.92 2050.07 1466.41C2050.16 1463.89 2050.24 1461.38 2050.33 1458.86C2050.38 1457.47 2050.42 1456.07 2050.47 1454.68C2050.51 1453.56 2050.55 1452.44 2050.58 1451.32C2050.67 1448.81 2050.75 1446.29 2050.83 1443.78C2050.91 1441.26 2050.99 1438.75 2051.08 1436.23C2051.13 1434.67 2051.18 1433.11 2051.23 1431.54C2051.26 1430.59 2051.29 1429.64 2051.32 1428.69C2051.40 1426.18 2051.48 1423.67 2051.55 1421.15C2051.63 1418.64 2051.71 1416.12 2051.79 1413.61C2051.84 1411.88 2051.90 1410.15 2051.95 1408.41C2051.97 1407.63 2052.00 1406.85 2052.02 1406.07C2052.10 1403.56 2052.18 1401.04 2052.25 1398.53C2052.33 1396.02 2052.41 1393.51 2052.50 1390.99C2052.56 1389.09 2052.62 1387.19 2052.69 1385.29C2052.71 1384.68 2052.73 1384.07 2052.75 1383.46C2052.84 1380.94 2052.93 1378.43 2053.02 1375.92C2053.11 1373.41 2053.21 1370.90 2053.31 1368.39C2053.40 1366.32 2053.48 1364.25 2053.57 1362.18C2053.59 1361.74 2053.61 1361.30 2053.63 1360.86C2053.74 1358.35 2053.86 1355.84 2053.99 1353.33C2054.11 1350.82 2054.24 1348.31 2054.38 1345.80C2054.50 1343.56 2054.63 1341.33 2054.76 1339.10C2054.78 1338.82 2054.79 1338.55 2054.81 1338.28C2054.96 1335.77 2055.12 1333.26 2055.29 1330.75C2055.46 1328.25 2055.64 1325.74 2055.83 1323.24C2056.00 1320.84 2056.19 1318.44 2056.39 1316.04C2056.40 1315.93 2056.41 1315.83 2056.42 1315.72C2056.63 1313.22 2056.84 1310.71 2057.07 1308.21C2057.30 1305.71 2057.54 1303.21 2057.80 1300.70C2058.05 1298.20 2058.32 1295.70 2058.59 1293.20C2058.60 1293.14 2058.61 1293.07 2058.62 1293.01C2058.89 1290.57 2059.17 1288.14 2059.47 1285.70C2059.78 1283.20 2060.10 1280.71 2060.43 1278.21C2060.76 1275.71 2061.11 1273.22 2061.48 1270.72C2061.51 1270.49 2061.55 1270.26 2061.58 1270.03C2061.91 1267.76 2062.26 1265.50 2062.62 1263.24C2063.02 1260.74 2063.43 1258.25 2063.86 1255.76C2064.29 1253.27 2064.74 1250.78 2065.21 1248.29C2065.28 1247.89 2065.36 1247.49 2065.43 1247.09C2065.83 1245.00 2066.24 1242.91 2066.66 1240.82C2067.17 1238.33 2067.72 1235.85 2068.70 1233.47C2069.67 1231.08 2071.21 1228.41 2073.06 1227.10C2073.48 1226.80 2073.91 1226.58 2074.35 1226.48C2075.83 1226.15 2077.33 1227.40 2078.55 1229.06C2080.11 1231.21 2081.05 1233.68 2081.68 1236.14C2082.32 1238.60 2082.74 1241.11 2083.21 1243.60C2083.35 1244.33 2083.49 1245.06 2083.62 1245.80C2083.95 1247.55 2084.27 1249.31 2084.59 1251.07C2085.04 1253.56 2085.48 1256.05 2085.91 1258.54C2086.34 1261.03 2086.77 1263.53 2087.18 1266.02C2087.33 1266.92 2087.48 1267.82 2087.63 1268.72C2087.89 1270.31 2088.14 1271.90 2088.40 1273.49C2088.79 1275.98 2089.18 1278.47 2089.56 1280.96C2089.94 1283.45 2090.32 1285.94 2090.68 1288.44C2090.84 1289.50 2090.99 1290.57 2091.15 1291.64C2091.35 1293.06 2091.56 1294.49 2091.76 1295.91C2092.11 1298.40 2092.45 1300.89 2092.79 1303.39C2093.13 1305.88 2093.46 1308.37 2093.79 1310.86C2093.95 1312.10 2094.11 1313.34 2094.26 1314.57C2094.43 1315.83 2094.58 1317.09 2094.74 1318.34C2095.06 1320.84 2095.36 1323.33 2095.67 1325.82C2095.97 1328.32 2096.26 1330.81 2096.56 1333.31C2096.72 1334.71 2096.88 1336.12 2097.05 1337.52C2097.17 1338.61 2097.30 1339.70 2097.42 1340.79C2097.70 1343.29 2097.98 1345.78 2098.26 1348.28C2098.53 1350.78 2098.80 1353.28 2099.07 1355.77C2099.24 1357.35 2099.40 1358.92 2099.57 1360.50C2099.67 1361.42 2099.76 1362.34 2099.86 1363.27C2100.12 1365.77 2100.38 1368.27 2100.63 1370.77C2100.88 1373.27 2101.14 1375.77 2101.38 1378.27C2101.56 1380.01 2101.73 1381.75 2101.90 1383.50C2101.98 1384.26 2102.05 1385.01 2102.13 1385.77C2102.37 1388.27 2102.61 1390.77 2102.86 1393.27C2103.10 1395.78 2103.34 1398.28 2103.58 1400.78C2103.76 1402.69 2103.94 1404.61 2104.13 1406.52C2104.18 1407.11 2104.24 1407.70 2104.29 1408.29C2104.53 1410.79 2104.77 1413.29 2105.00 1415.80C2105.24 1418.30 2105.48 1420.80 2105.72 1423.31C2105.91 1425.39 2106.11 1427.47 2106.31 1429.55C2106.35 1429.97 2106.39 1430.40 2106.43 1430.82C2106.67 1433.32 2106.90 1435.82 2107.14 1438.33C2107.38 1440.83 2107.62 1443.33 2107.87 1445.84C2108.08 1448.09 2108.30 1450.34 2108.52 1452.59C2108.55 1452.84 2108.57 1453.09 2108.60 1453.35C2108.84 1455.85 2109.09 1458.35 2109.34 1460.85C2109.59 1463.36 2109.85 1465.86 2110.10 1468.36C2110.35 1470.78 2110.60 1473.20 2110.85 1475.61C2110.86 1475.70 2110.87 1475.78 2110.88 1475.87C2111.14 1478.37 2111.40 1480.87 2111.67 1483.37C2111.93 1485.87 2112.20 1488.37 2112.48 1490.87C2112.75 1493.37 2113.02 1495.87 2113.30 1498.37C2113.31 1498.46 2113.32 1498.54 2113.33 1498.62C2113.60 1501.04 2113.87 1503.46 2114.15 1505.87C2114.43 1508.37 2114.72 1510.87 2115.01 1513.37C2115.29 1515.87 2115.59 1518.37 2115.88 1520.87C2115.91 1521.12 2115.94 1521.37 2115.97 1521.62C2116.23 1523.87 2116.50 1526.11 2116.77 1528.36C2117.07 1530.86 2117.37 1533.35 2117.68 1535.85C2117.98 1538.35 2118.29 1540.85 2118.60 1543.34C2118.65 1543.76 2118.70 1544.18 2118.75 1544.60C2119.01 1546.68 2119.27 1548.76 2119.53 1550.83C2119.85 1553.33 2120.17 1555.82 2120.49 1558.32C2120.80 1560.82 2121.13 1563.31 2121.45 1565.81C2121.53 1566.39 2121.60 1566.98 2121.68 1567.57C2121.93 1569.47 2122.18 1571.38 2122.43 1573.29C2122.76 1575.79 2123.09 1578.28 2123.42 1580.77C2123.75 1583.27 2124.09 1585.76 2124.42 1588.26C2124.53 1589.01 2124.63 1589.76 2124.73 1590.52C2124.97 1592.26 2125.20 1594.00 2125.44 1595.74C2125.78 1598.23 2126.13 1600.72 2126.47 1603.21C2126.82 1605.71 2127.17 1608.20 2127.51 1610.69C2127.64 1611.61 2127.77 1612.53 2127.90 1613.46C2128.12 1615.03 2128.35 1616.60 2128.57 1618.17C2128.92 1620.66 2129.28 1623.15 2129.64 1625.64C2129.99 1628.13 2130.35 1630.62 2130.71 1633.12C2130.87 1634.20 2131.03 1635.29 2131.19 1636.38C2131.39 1637.78 2131.59 1639.18 2131.80 1640.59C2132.16 1643.08 2132.53 1645.57 2132.90 1648.06C2133.27 1650.55 2133.64 1653.04 2134.01 1655.52C2134.20 1656.78 2134.38 1658.03 2134.57 1659.29C2134.76 1660.52 2134.94 1661.76 2135.13 1662.99C2135.50 1665.48 2135.88 1667.97 2136.26 1670.46C2136.64 1672.94 2137.02 1675.43 2137.41 1677.92C2137.63 1679.34 2137.85 1680.76 2138.07 1682.18C2138.24 1683.25 2138.40 1684.31 2138.57 1685.38C2138.96 1687.86 2139.36 1690.35 2139.76 1692.83C2140.15 1695.32 2140.56 1697.80 2140.96 1700.28C2141.22 1701.87 2141.48 1703.45 2141.75 1705.04C2141.89 1705.93 2142.04 1706.83 2142.19 1707.73C2142.61 1710.21 2143.03 1712.69 2143.45 1715.17C2143.88 1717.65 2144.31 1720.13 2144.74 1722.60C2145.05 1724.35 2145.36 1726.10 2145.67 1727.84C2145.80 1728.57 2145.93 1729.30 2146.06 1730.03C2146.51 1732.50 2146.96 1734.97 2147.42 1737.45C2147.87 1739.92 2148.34 1742.39 2148.81 1744.86C2149.17 1746.76 2149.54 1748.67 2149.91 1750.58C2150.02 1751.14 2150.13 1751.70 2150.24 1752.26C2150.72 1754.72 2151.21 1757.19 2151.71 1759.65C2152.21 1762.11 2152.72 1764.57 2153.23 1767.03C2153.66 1769.10 2154.10 1771.16 2154.54 1773.22C2154.62 1773.62 2154.71 1774.01 2154.79 1774.40C2155.32 1776.86 2155.86 1779.31 2156.41 1781.76C2156.95 1784.21 2157.51 1786.66 2158.07 1789.11C2158.58 1791.33 2159.10 1793.55 2159.63 1795.76C2159.68 1795.99 2159.73 1796.22 2159.79 1796.44C2160.37 1798.89 2160.96 1801.33 2161.56 1803.77C2162.16 1806.20 2162.78 1808.64 2163.40 1811.07C2164.00 1813.44 2164.62 1815.81 2165.24 1818.18C2165.26 1818.24 2165.28 1818.30 2165.29 1818.37C2165.93 1820.80 2166.59 1823.22 2167.25 1825.65C2167.91 1828.07 2168.59 1830.49 2169.27 1832.91C2169.96 1835.33 2170.66 1837.74 2171.37 1840.15C2171.40 1840.25 2171.43 1840.36 2171.46 1840.46C2172.14 1842.77 2172.83 1845.08 2173.53 1847.38C2174.26 1849.79 2175.01 1852.19 2175.77 1854.60C2176.53 1857.00 2177.30 1859.39 2178.08 1861.79C2178.17 1862.05 2178.25 1862.31 2178.34 1862.57C2179.04 1864.70 2179.75 1866.83 2180.47 1868.96C2181.28 1871.35 2182.11 1873.74 2182.95 1876.12C2183.78 1878.50 2184.63 1880.88 2185.50 1883.25C2185.65 1883.67 2185.81 1884.09 2185.96 1884.51C2186.68 1886.46 2187.40 1888.42 2188.14 1890.37C2189.04 1892.74 2189.95 1895.10 2190.87 1897.46C2191.79 1899.82 2192.73 1902.18 2193.68 1904.53C2193.91 1905.10 2194.14 1905.67 2194.37 1906.24C2195.10 1908.02 2195.83 1909.79 2196.56 1911.56C2197.53 1913.90 2198.51 1916.23 2199.50 1918.56C2200.49 1920.88 2201.49 1923.20 2202.49 1925.51C2202.80 1926.22 2203.12 1926.94 2203.43 1927.65C2204.12 1929.24 2204.82 1930.82 2205.52 1932.40C2206.53 1934.69 2207.55 1936.97 2208.58 1939.24C2209.60 1941.51 2210.62 1943.76 2211.67 1946.00C2212.06 1946.85 2212.46 1947.69 2212.87 1948.53C2213.54 1949.92 2214.22 1951.29 2214.93 1952.66C2216.06 1954.86 2217.25 1957.02 2218.53 1959.16C2219.81 1961.29 2221.18 1963.40 2222.63 1965.46C2223.28 1966.37 2223.94 1967.28 2224.62 1968.18C2225.46 1969.30 2226.32 1970.41 2227.21 1971.50C2228.80 1973.47 2230.46 1975.38 2232.16 1977.25C2233.86 1979.11 2235.62 1980.92 2237.42 1982.69C2238.35 1983.59 2239.28 1984.48 2240.23 1985.36C2241.13 1986.19 2242.05 1987.02 2242.97 1987.83C2244.86 1989.50 2246.80 1991.12 2248.77 1992.70C2250.75 1994.27 2252.76 1995.80 2254.80 1997.29C2255.98 1998.15 2257.18 1999.00 2258.38 1999.84C2259.26 2000.44 2260.14 2001.04 2261.02 2001.63C2263.13 2003.04 2265.26 2004.41 2267.41 2005.74C2269.57 2007.07 2271.74 2008.36 2273.94 2009.61C2275.36 2010.43 2276.79 2011.22 2278.22 2012.01C2279.00 2012.44 2279.79 2012.86 2280.58 2013.28C2282.81 2014.47 2285.05 2015.62 2287.30 2016.75C2289.56 2017.87 2291.83 2018.97 2294.11 2020.03C2295.74 2020.79 2297.37 2021.54 2299.01 2022.27C2299.67 2022.56 2300.33 2022.86 2300.99 2023.15C2303.29 2024.16 2305.60 2025.14 2307.93 2026.10C2310.25 2027.06 2312.58 2028.00 2314.93 2028.92C2316.75 2029.63 2318.59 2030.33 2320.43 2031.02C2320.94 2031.22 2321.46 2031.41 2321.97 2031.60C2324.33 2032.48 2326.69 2033.33 2329.06 2034.17C2331.43 2035.01 2333.81 2035.83 2336.19 2036.64C2338.20 2037.33 2340.23 2038.00 2342.25 2038.67C2342.61 2038.79 2342.97 2038.90 2343.34 2039.02C2345.72 2039.80 2348.12 2040.57 2350.51 2041.32C2352.91 2042.07 2355.31 2042.81 2357.71 2043.54C2359.91 2044.21 2362.11 2044.86 2364.32 2045.51C2364.52 2045.57 2364.73 2045.63 2364.93 2045.69C2367.34 2046.39 2369.75 2047.08 2372.17 2047.76C2374.59 2048.43 2377.01 2049.10 2379.43 2049.76C2381.82 2050.40 2384.20 2051.03 2386.59 2051.66C2386.63 2051.67 2386.67 2051.68 2386.71 2051.69C2389.14 2052.32 2391.58 2052.95 2394.01 2053.56C2396.45 2054.17 2398.89 2054.78 2401.33 2055.37C2403.77 2055.96 2406.21 2056.55 2408.66 2057.12C2408.78 2057.15 2408.90 2057.18 2409.03 2057.21C2411.35 2057.75 2413.68 2058.29 2416.01 2058.82C2421.20 2060.00 2426.40 2061.14 2431.60 2062.25C2439.15 2063.85 2446.71 2065.38 2454.29 2066.86C2461.87 2068.34 2469.46 2069.76 2477.06 2071.14C2484.65 2072.52 2492.26 2073.86 2499.87 2075.17C2507.48 2076.49 2515.09 2077.77 2522.71 2079.02C2530.32 2080.28 2537.94 2081.50 2545.57 2082.70C2553.19 2083.89 2560.82 2085.06 2568.45 2086.20C2576.08 2087.34 2583.72 2088.46 2591.36 2089.54C2599.00 2090.63 2606.64 2091.69 2614.28 2092.72C2621.93 2093.75 2629.58 2094.75 2637.23 2095.73C2644.88 2096.71 2652.53 2097.66 2660.19 2098.59C2667.85 2099.52 2675.51 2100.42 2683.17 2101.30C2690.84 2102.18 2698.50 2103.03 2706.17 2103.86C2713.84 2104.68 2721.51 2105.49 2729.18 2106.27C2736.86 2107.05 2744.53 2107.80 2752.21 2108.54C2759.89 2109.27 2767.57 2109.98 2775.25 2110.67C2782.94 2111.35 2790.62 2112.02 2798.31 2112.66C2805.99 2113.30 2813.68 2113.92 2821.37 2114.52C2829.07 2115.12 2836.76 2115.70 2844.45 2116.26C2852.15 2116.81 2859.84 2117.35 2867.54 2117.86C2875.24 2118.38 2882.94 2118.88 2890.64 2119.35C2898.34 2119.83 2906.04 2120.28 2913.75 2120.72C2921.45 2121.16 2929.16 2121.57 2936.86 2121.97C2944.57 2122.37 2952.27 2122.75 2959.98 2123.11C2967.69 2123.48 2975.40 2123.82 2983.11 2124.15C2990.82 2124.47 2998.53 2124.78 3006.24 2125.08C3013.95 2125.37 3021.66 2125.65 3029.38 2125.90C3037.09 2126.16 3044.80 2126.41 3052.52 2126.63C3060.23 2126.86 3067.94 2127.07 3075.66 2127.27C3083.37 2127.47 3091.08 2127.65 3098.80 2127.82C3106.51 2127.98 3114.23 2128.14 3121.94 2128.27C3129.66 2128.41 3137.37 2128.54 3145.08 2128.65C3152.80 2128.76 3160.51 2128.86 3168.23 2128.94C3175.94 2129.03 3183.65 2129.10 3191.36 2129.16C3199.08 2129.22 3206.79 2129.26 3214.50 2129.30" stroke="#E1AA3C" stroke-width="12.4" stroke-linecap="round" stroke-linejoin="round" fill="none"/>
<path id="axes" d="M726.45 717.9V2341.6M724.85 2297.4H3211.42M1002.38 2297.4V2341.6M1278.31 2297.4V2341.6M1554.24 2297.4V2341.6M1830.17 2297.4V2341.6M2106.10 2297.4V2341.6M2382.03 2297.4V2341.6M2657.96 2297.4V2341.6M2933.89 2297.4V2341.6M3209.82 2297.4V2341.6" stroke="#fff" stroke-width="3.2" fill="none"/>
<g id="arrows" fill="#fff" stroke="none"><rect x="586.95" y="776" width="3.15" height="128.1"/><path d="M588.0 750.9L601.2 777.05H574.9Z"/><rect x="586.95" y="2094.9" width="3.15" height="126"/><path d="M588.95 2245.95L602.1 2220.0H575.8Z"/></g>
<rect id="legbox" x="2665.6" y="1318.55" width="550.9" height="217.4" fill="none" stroke="#fff" stroke-width="2"/>
<circle cx="2719.4" cy="1392.9" r="16.5" fill="#7030A0"/><circle cx="2719.4" cy="1470.5" r="16.5" fill="#E1AA3C"/>
<text id="sub" y="190.85" font-size="81.1" fill="#F1B845" letter-spacing="16" filter="url(#fatx1)"><tspan id="sub0" x="110.00" textLength="206.16" lengthAdjust="spacingAndGlyphs">CHANGE</tspan> <tspan id="sub1" x="329.60" textLength="58.91" lengthAdjust="spacingAndGlyphs">IN</tspan> <tspan id="sub2" x="400.30" textLength="316.96" lengthAdjust="spacingAndGlyphs">BRIGHTNESS</tspan> <tspan id="sub3" x="730.80" textLength="61.75" lengthAdjust="spacingAndGlyphs">OF</tspan> <tspan id="sub4" x="811.00" textLength="94.31" lengthAdjust="spacingAndGlyphs">RED</tspan> <tspan id="sub5" x="927.60" textLength="172.86" lengthAdjust="spacingAndGlyphs">DWARF</tspan> <tspan id="sub6" x="1118.00" textLength="126.13" lengthAdjust="spacingAndGlyphs">STAR</tspan> <tspan id="sub7" x="1258.80" textLength="67.55" lengthAdjust="spacingAndGlyphs">GJ</tspan> <tspan id="sub8" x="1343.50" textLength="104.20" lengthAdjust="spacingAndGlyphs">486</tspan></text>
<text id="tit" y="339.9" font-size="155.5" fill="#fff" letter-spacing="24" filter="url(#fatx3)"><tspan id="tit0" x="113.20" textLength="225.47" lengthAdjust="spacingAndGlyphs">HIGH</tspan><tspan dy="-5.5" id="tit1" x="342.80" textLength="42.06" lengthAdjust="spacingAndGlyphs">-</tspan><tspan dy="5.5" id="tit2" x="384.20" textLength="366.11" lengthAdjust="spacingAndGlyphs">ENERGY</tspan> <tspan id="tit3" x="779.10" textLength="283.89" lengthAdjust="spacingAndGlyphs">FLARE</tspan></text>
<text id="webb" y="2719.5" font-size="100.5" font-weight="700" fill="#fff" stroke="#fff" stroke-width="3.2" stroke-linejoin="round"><tspan dy="-1.9" font-size="94.4" stroke-width="7" id="webb0" x="3406.70" textLength="95.81" lengthAdjust="spacingAndGlyphs">W</tspan><tspan dy="1.9" id="webb1" x="3511.20" textLength="84.13" lengthAdjust="spacingAndGlyphs">E</tspan><tspan id="webb2" x="3597.20" textLength="94.40" lengthAdjust="spacingAndGlyphs">B</tspan><tspan id="webb3" x="3690.70" textLength="93.36" lengthAdjust="spacingAndGlyphs">B</tspan></text>
<text id="tk0" x="716.30" y="2418.0" font-size="32.4" font-weight="400" fill="#fff" textLength="18.79" lengthAdjust="spacingAndGlyphs" >0</text>
<text id="tk1" x="992.08" y="2418.0" font-size="32.4" font-weight="400" fill="#fff" textLength="19.24" lengthAdjust="spacingAndGlyphs" >5</text>
<text id="tk2" x="1256.81" y="2418.0" font-size="32.4" font-weight="400" fill="#fff" textLength="40.82" lengthAdjust="spacingAndGlyphs" >10</text>
<text id="tk3" x="1533.59" y="2418.0" font-size="32.4" font-weight="400" fill="#fff" textLength="39.71" lengthAdjust="spacingAndGlyphs" >15</text>
<text id="tk4" x="1810.37" y="2418.0" font-size="32.4" font-weight="400" fill="#fff" textLength="38.68" lengthAdjust="spacingAndGlyphs" >20</text>
<text id="tk5" x="2086.15" y="2418.0" font-size="32.4" font-weight="400" fill="#fff" textLength="38.64" lengthAdjust="spacingAndGlyphs" >25</text>
<text id="tk6" x="2361.93" y="2418.0" font-size="32.4" font-weight="400" fill="#fff" textLength="38.49" lengthAdjust="spacingAndGlyphs" >30</text>
<text id="tk7" x="2637.71" y="2418.0" font-size="32.4" font-weight="400" fill="#fff" textLength="39.68" lengthAdjust="spacingAndGlyphs" >35</text>
<text id="tk8" x="2914.49" y="2418.0" font-size="32.4" font-weight="400" fill="#fff" textLength="37.57" lengthAdjust="spacingAndGlyphs" >40</text>
<text id="tk9" x="3190.27" y="2418.0" font-size="32.4" font-weight="400" fill="#fff" textLength="38.77" lengthAdjust="spacingAndGlyphs" >45</text>
<text id="xlab" x="1682.80" y="2617.6" font-size="48.5" font-weight="400" fill="#fff" textLength="576.50" lengthAdjust="spacing" >Elapsed Time in Minutes</text>
<text id="leg0" x="2758.40" y="1408.9" font-size="42.7" font-weight="400" fill="#fff" textLength="411.10" lengthAdjust="spacing" >Hubble measurement</text>
<text id="leg1" x="2758.40" y="1487.3" font-size="42.7" font-weight="400" fill="#fff" textLength="228.10" lengthAdjust="spacing" >Flare model</text>
<text id="st" x="3400.50" y="2769.7" font-size="37.6" font-weight="700" fill="#F1B845" textLength="378.30" lengthAdjust="spacing" stroke="#F1B845" stroke-width="0.9">SPACE TELESCOPE</text>
<text id="ybri" x="-1625.70" y="0" font-size="49.2" font-weight="400" fill="#fff" textLength="252.00" lengthAdjust="spacing" transform="translate(558.2,0) rotate(-90)" >Brightness</text>
<text id="yuv" x="-1659.50" y="0" font-size="34.4" font-weight="400" fill="#fff" textLength="318.10" lengthAdjust="spacing" transform="translate(602.2,0) rotate(-90)" >( ultraviolet light )</text>
<text id="ybr" x="-1113.00" y="0" font-size="38.5" font-weight="400" fill="#fff" textLength="147.90" lengthAdjust="spacing" transform="translate(605.8,0) rotate(-90)" >brighter</text>
<text id="ydm" x="-2049.80" y="0" font-size="38.5" font-weight="400" fill="#fff" textLength="140.10" lengthAdjust="spacing" transform="translate(605.8,0) rotate(-90)" >dimmer</text>
</svg></body></html>
